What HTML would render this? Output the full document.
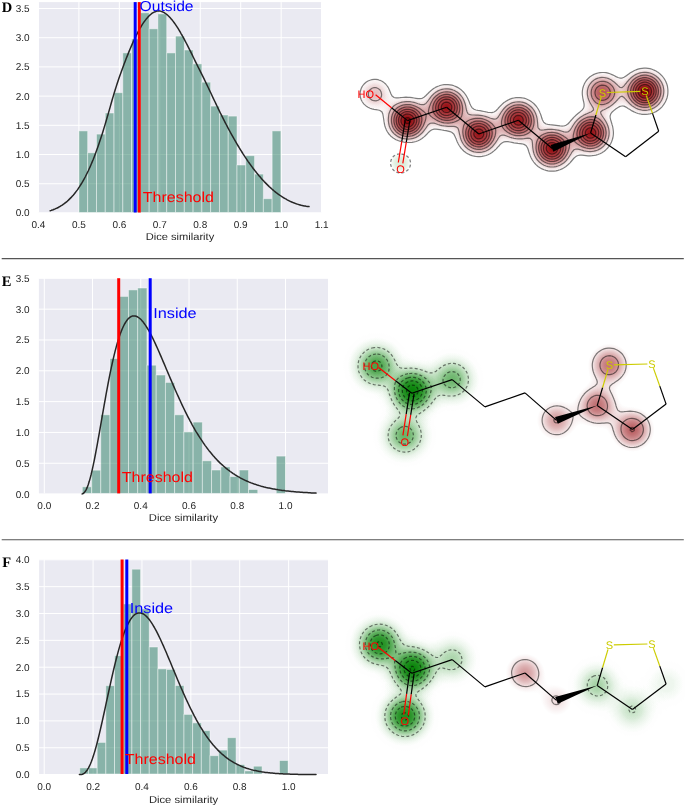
<!DOCTYPE html><html><head><meta charset="utf-8"><style>html,body{margin:0;padding:0;background:#fff;overflow:hidden}svg{display:block}text{font-family:"Liberation Sans",sans-serif;text-rendering:geometricPrecision}</style></head><body>
<svg width="685" height="805" viewBox="0 0 685 805">
<rect width="685" height="805" fill="#fff"/>
<rect x="38.5" y="2.1" width="282.9" height="210.4" fill="#eaeaf2"/>
<line x1="38.45" y1="2.1" x2="38.45" y2="212.5" stroke="#fff" stroke-width="1"/>
<line x1="78.9" y1="2.1" x2="78.9" y2="212.5" stroke="#fff" stroke-width="1"/>
<line x1="119.35" y1="2.1" x2="119.35" y2="212.5" stroke="#fff" stroke-width="1"/>
<line x1="159.8" y1="2.1" x2="159.8" y2="212.5" stroke="#fff" stroke-width="1"/>
<line x1="200.25" y1="2.1" x2="200.25" y2="212.5" stroke="#fff" stroke-width="1"/>
<line x1="240.7" y1="2.1" x2="240.7" y2="212.5" stroke="#fff" stroke-width="1"/>
<line x1="281.15" y1="2.1" x2="281.15" y2="212.5" stroke="#fff" stroke-width="1"/>
<line x1="321.6" y1="2.1" x2="321.6" y2="212.5" stroke="#fff" stroke-width="1"/>
<line x1="38.5" y1="212.95" x2="321.4" y2="212.95" stroke="#fff" stroke-width="1"/>
<line x1="38.5" y1="183.74" x2="321.4" y2="183.74" stroke="#fff" stroke-width="1"/>
<line x1="38.5" y1="154.53" x2="321.4" y2="154.53" stroke="#fff" stroke-width="1"/>
<line x1="38.5" y1="125.32" x2="321.4" y2="125.32" stroke="#fff" stroke-width="1"/>
<line x1="38.5" y1="96.11" x2="321.4" y2="96.11" stroke="#fff" stroke-width="1"/>
<line x1="38.5" y1="66.9" x2="321.4" y2="66.9" stroke="#fff" stroke-width="1"/>
<line x1="38.5" y1="37.69" x2="321.4" y2="37.69" stroke="#fff" stroke-width="1"/>
<line x1="38.5" y1="8.48" x2="321.4" y2="8.48" stroke="#fff" stroke-width="1"/>
<g fill="#267c60" fill-opacity="0.5" stroke="#fff" stroke-opacity="0.5" stroke-width="0.9"><rect x="78.9" y="130.9" width="8.78" height="81.6"/><rect x="87.68" y="152.8" width="8.78" height="59.7"/><rect x="96.47" y="134.1" width="8.78" height="78.4"/><rect x="105.25" y="113" width="8.78" height="99.5"/><rect x="114.03" y="92.7" width="8.78" height="119.8"/><rect x="122.81" y="52.9" width="8.78" height="159.6"/><rect x="131.6" y="39" width="8.78" height="173.5"/><rect x="140.38" y="12.8" width="8.78" height="199.7"/><rect x="149.16" y="28.8" width="8.78" height="183.7"/><rect x="157.95" y="13.9" width="8.78" height="198.6"/><rect x="166.73" y="52.9" width="8.78" height="159.6"/><rect x="175.51" y="36.1" width="8.78" height="176.4"/><rect x="184.3" y="50" width="8.78" height="162.5"/><rect x="193.08" y="63.9" width="8.78" height="148.6"/><rect x="201.86" y="82.2" width="8.78" height="130.3"/><rect x="210.65" y="106.1" width="8.78" height="106.4"/><rect x="219.43" y="115" width="8.78" height="97.5"/><rect x="228.21" y="116.1" width="8.78" height="96.4"/><rect x="236.99" y="165" width="8.78" height="47.5"/><rect x="245.78" y="155.7" width="8.78" height="56.8"/><rect x="254.56" y="174.1" width="8.78" height="38.4"/><rect x="263.34" y="198.7" width="8.78" height="13.8"/><rect x="272.13" y="130.9" width="8.78" height="81.6"/></g>
<path d="M50.2,210.7 L51.2,210.4 L52.2,210.0 L53.2,209.7 L54.2,209.3 L55.2,208.9 L56.2,208.4 L57.2,208.0 L58.2,207.5 L59.2,206.9 L60.2,206.3 L61.2,205.7 L62.2,205.1 L63.2,204.4 L64.2,203.7 L65.2,202.9 L66.2,202.1 L67.2,201.3 L68.2,200.4 L69.2,199.4 L70.2,198.4 L71.2,197.4 L72.2,196.3 L73.2,195.2 L74.2,194.0 L75.2,192.7 L76.2,191.4 L77.2,190.1 L78.2,188.7 L79.2,187.2 L80.2,185.6 L81.2,184.0 L82.2,182.4 L83.2,180.6 L84.2,178.8 L85.2,177.0 L86.2,175.0 L87.2,173.0 L88.2,171.0 L89.2,168.8 L90.2,166.6 L91.2,164.3 L92.2,161.9 L93.2,159.5 L94.2,156.9 L95.2,154.3 L96.2,151.6 L97.2,148.8 L98.2,146.0 L99.2,143.1 L100.2,140.1 L101.2,137.0 L102.2,133.9 L103.2,130.7 L104.2,127.4 L105.2,124.1 L106.2,120.8 L107.2,117.3 L108.2,113.9 L109.2,110.4 L110.2,106.9 L111.2,103.3 L112.2,99.8 L113.2,96.4 L114.2,93.0 L115.2,89.8 L116.2,86.6 L117.2,83.5 L118.2,80.5 L119.2,77.6 L120.2,74.8 L121.2,72.0 L122.2,69.2 L123.2,66.5 L124.2,63.8 L125.2,61.2 L126.2,58.6 L127.2,56.1 L128.2,53.6 L129.2,51.1 L130.2,48.7 L131.2,46.4 L132.2,44.1 L133.2,41.9 L134.2,39.7 L135.2,37.6 L136.2,35.5 L137.2,33.6 L138.2,31.6 L139.2,29.8 L140.2,28.0 L141.2,26.3 L142.2,24.7 L143.2,23.2 L144.2,21.7 L145.2,20.4 L146.2,19.1 L147.2,17.9 L148.2,16.8 L149.2,15.7 L150.2,14.8 L151.2,14.0 L152.2,13.2 L153.2,12.6 L154.2,12.1 L155.2,11.7 L156.2,11.3 L157.2,11.1 L158.2,11.0 L159.2,11.0 L160.2,11.1 L161.2,11.4 L162.2,11.7 L163.2,12.1 L164.2,12.7 L165.2,13.3 L166.2,14.0 L167.2,14.8 L168.2,15.7 L169.2,16.7 L170.2,17.8 L171.2,18.9 L172.2,20.1 L173.2,21.4 L174.2,22.7 L175.2,24.1 L176.2,25.6 L177.2,27.1 L178.2,28.7 L179.2,30.3 L180.2,32.0 L181.2,33.8 L182.2,35.5 L183.2,37.3 L184.2,39.2 L185.2,41.1 L186.2,43.0 L187.2,44.9 L188.2,46.9 L189.2,48.9 L190.2,50.9 L191.2,52.9 L192.2,54.9 L193.2,57.0 L194.2,59.0 L195.2,61.1 L196.2,63.1 L197.2,65.1 L198.2,67.2 L199.2,69.2 L200.2,71.2 L201.2,73.2 L202.2,75.2 L203.2,77.2 L204.2,79.2 L205.2,81.3 L206.2,83.4 L207.2,85.4 L208.2,87.5 L209.2,89.6 L210.2,91.7 L211.2,93.8 L212.2,96.0 L213.2,98.1 L214.2,100.2 L215.2,102.3 L216.2,104.4 L217.2,106.5 L218.2,108.6 L219.2,110.6 L220.2,112.7 L221.2,114.7 L222.2,116.7 L223.2,118.7 L224.2,120.6 L225.2,122.6 L226.2,124.5 L227.2,126.4 L228.2,128.3 L229.2,130.2 L230.2,132.0 L231.2,133.8 L232.2,135.6 L233.2,137.4 L234.2,139.2 L235.2,140.9 L236.2,142.6 L237.2,144.3 L238.2,146.0 L239.2,147.7 L240.2,149.3 L241.2,150.9 L242.2,152.5 L243.2,154.1 L244.2,155.6 L245.2,157.1 L246.2,158.6 L247.2,160.1 L248.2,161.6 L249.2,163.0 L250.2,164.4 L251.2,165.8 L252.2,167.1 L253.2,168.5 L254.2,169.8 L255.2,171.1 L256.2,172.3 L257.2,173.6 L258.2,174.8 L259.2,176.0 L260.2,177.1 L261.2,178.3 L262.2,179.4 L263.2,180.5 L264.2,181.6 L265.2,182.6 L266.2,183.6 L267.2,184.6 L268.2,185.6 L269.2,186.6 L270.2,187.5 L271.2,188.4 L272.2,189.3 L273.2,190.1 L274.2,191.0 L275.2,191.8 L276.2,192.6 L277.2,193.3 L278.2,194.1 L279.2,194.8 L280.2,195.5 L281.2,196.2 L282.2,196.8 L283.2,197.5 L284.2,198.1 L285.2,198.7 L286.2,199.2 L287.2,199.8 L288.2,200.3 L289.2,200.8 L290.2,201.3 L291.2,201.8 L292.2,202.2 L293.2,202.6 L294.2,203.0 L295.2,203.4 L296.2,203.8 L297.2,204.1 L298.2,204.4 L299.2,204.7 L300.2,205.0 L301.2,205.3 L302.2,205.5 L303.2,205.7 L304.2,205.9 L305.2,206.1 L306.2,206.3 L307.2,206.4 L308.2,206.5 L309.0,206.6" fill="none" stroke="#262626" stroke-width="1.5" stroke-linejoin="round" stroke-linecap="round"/>
<line x1="135.2" y1="2.1" x2="135.2" y2="212.5" stroke="#0000ff" stroke-width="3"/>
<line x1="139.3" y1="2.1" x2="139.3" y2="212.5" stroke="#ff0000" stroke-width="3"/>
<text x="139.6" y="11.4" fill="#0000ff" font-size="14.4" textLength="54" lengthAdjust="spacingAndGlyphs">Outside</text>
<text x="142.8" y="202.2" fill="#ff0000" font-size="14.4" textLength="71.2" lengthAdjust="spacingAndGlyphs">Threshold</text>
<text x="38.45" y="228" text-anchor="middle" font-size="10.0" fill="#262626">0.4</text>
<text x="78.9" y="228" text-anchor="middle" font-size="10.0" fill="#262626">0.5</text>
<text x="119.35" y="228" text-anchor="middle" font-size="10.0" fill="#262626">0.6</text>
<text x="159.8" y="228" text-anchor="middle" font-size="10.0" fill="#262626">0.7</text>
<text x="200.25" y="228" text-anchor="middle" font-size="10.0" fill="#262626">0.8</text>
<text x="240.7" y="228" text-anchor="middle" font-size="10.0" fill="#262626">0.9</text>
<text x="281.15" y="228" text-anchor="middle" font-size="10.0" fill="#262626">1.0</text>
<text x="321.6" y="228" text-anchor="middle" font-size="10.0" fill="#262626">1.1</text>
<text x="29.6" y="216.35" text-anchor="end" font-size="10.0" fill="#262626">0.0</text>
<text x="29.6" y="187.14" text-anchor="end" font-size="10.0" fill="#262626">0.5</text>
<text x="29.6" y="157.93" text-anchor="end" font-size="10.0" fill="#262626">1.0</text>
<text x="29.6" y="128.72" text-anchor="end" font-size="10.0" fill="#262626">1.5</text>
<text x="29.6" y="99.51" text-anchor="end" font-size="10.0" fill="#262626">2.0</text>
<text x="29.6" y="70.3" text-anchor="end" font-size="10.0" fill="#262626">2.5</text>
<text x="29.6" y="41.09" text-anchor="end" font-size="10.0" fill="#262626">3.0</text>
<text x="29.6" y="11.88" text-anchor="end" font-size="10.0" fill="#262626">3.5</text>
<text x="179.95" y="240" text-anchor="middle" font-size="10.0" fill="#262626" textLength="68.5" lengthAdjust="spacingAndGlyphs">Dice similarity</text>
<text x="1.8" y="11.9" style="font-family:'Liberation Serif',serif;font-weight:bold" font-size="14.5" fill="#000">D</text>
<defs><radialGradient id="g0r0" gradientUnits="userSpaceOnUse" cx="374.8" cy="94.1" r="35.8"><stop offset="0.000" stop-color="#2d2d2d"/><stop offset="0.042" stop-color="#2d2d2d"/><stop offset="0.083" stop-color="#2b2b2b"/><stop offset="0.125" stop-color="#2a2a2a"/><stop offset="0.167" stop-color="#272727"/><stop offset="0.208" stop-color="#242424"/><stop offset="0.250" stop-color="#212121"/><stop offset="0.292" stop-color="#1d1d1d"/><stop offset="0.333" stop-color="#191919"/><stop offset="0.375" stop-color="#161616"/><stop offset="0.417" stop-color="#121212"/><stop offset="0.458" stop-color="#0f0f0f"/><stop offset="0.500" stop-color="#0d0d0d"/><stop offset="0.542" stop-color="#0a0a0a"/><stop offset="0.583" stop-color="#080808"/><stop offset="0.625" stop-color="#060606"/><stop offset="0.667" stop-color="#050505"/><stop offset="0.708" stop-color="#030303"/><stop offset="0.750" stop-color="#030303"/><stop offset="0.792" stop-color="#020202"/><stop offset="0.833" stop-color="#010101"/><stop offset="0.875" stop-color="#010101"/><stop offset="0.917" stop-color="#010101"/><stop offset="0.958" stop-color="#000000"/><stop offset="1.000" stop-color="#000000"/></radialGradient><radialGradient id="g0r1" gradientUnits="userSpaceOnUse" cx="407.5" cy="120.6" r="35.8"><stop offset="0.000" stop-color="#9d9d9d"/><stop offset="0.042" stop-color="#9c9c9c"/><stop offset="0.083" stop-color="#989898"/><stop offset="0.125" stop-color="#919191"/><stop offset="0.167" stop-color="#898989"/><stop offset="0.208" stop-color="#7e7e7e"/><stop offset="0.250" stop-color="#727272"/><stop offset="0.292" stop-color="#666666"/><stop offset="0.333" stop-color="#595959"/><stop offset="0.375" stop-color="#4d4d4d"/><stop offset="0.417" stop-color="#414141"/><stop offset="0.458" stop-color="#363636"/><stop offset="0.500" stop-color="#2c2c2c"/><stop offset="0.542" stop-color="#232323"/><stop offset="0.583" stop-color="#1c1c1c"/><stop offset="0.625" stop-color="#151515"/><stop offset="0.667" stop-color="#101010"/><stop offset="0.708" stop-color="#0c0c0c"/><stop offset="0.750" stop-color="#090909"/><stop offset="0.792" stop-color="#060606"/><stop offset="0.833" stop-color="#040404"/><stop offset="0.875" stop-color="#030303"/><stop offset="0.917" stop-color="#020202"/><stop offset="0.958" stop-color="#010101"/><stop offset="1.000" stop-color="#010101"/></radialGradient><radialGradient id="g0r2" gradientUnits="userSpaceOnUse" cx="446.6" cy="107.3" r="35.8"><stop offset="0.000" stop-color="#949494"/><stop offset="0.042" stop-color="#939393"/><stop offset="0.083" stop-color="#8f8f8f"/><stop offset="0.125" stop-color="#898989"/><stop offset="0.167" stop-color="#808080"/><stop offset="0.208" stop-color="#777777"/><stop offset="0.250" stop-color="#6b6b6b"/><stop offset="0.292" stop-color="#606060"/><stop offset="0.333" stop-color="#545454"/><stop offset="0.375" stop-color="#484848"/><stop offset="0.417" stop-color="#3d3d3d"/><stop offset="0.458" stop-color="#323232"/><stop offset="0.500" stop-color="#292929"/><stop offset="0.542" stop-color="#212121"/><stop offset="0.583" stop-color="#1a1a1a"/><stop offset="0.625" stop-color="#141414"/><stop offset="0.667" stop-color="#0f0f0f"/><stop offset="0.708" stop-color="#0b0b0b"/><stop offset="0.750" stop-color="#080808"/><stop offset="0.792" stop-color="#060606"/><stop offset="0.833" stop-color="#040404"/><stop offset="0.875" stop-color="#030303"/><stop offset="0.917" stop-color="#020202"/><stop offset="0.958" stop-color="#010101"/><stop offset="1.000" stop-color="#010101"/></radialGradient><radialGradient id="g0r3" gradientUnits="userSpaceOnUse" cx="478.8" cy="134" r="35.8"><stop offset="0.000" stop-color="#929292"/><stop offset="0.042" stop-color="#919191"/><stop offset="0.083" stop-color="#8d8d8d"/><stop offset="0.125" stop-color="#878787"/><stop offset="0.167" stop-color="#7f7f7f"/><stop offset="0.208" stop-color="#757575"/><stop offset="0.250" stop-color="#6a6a6a"/><stop offset="0.292" stop-color="#5f5f5f"/><stop offset="0.333" stop-color="#535353"/><stop offset="0.375" stop-color="#474747"/><stop offset="0.417" stop-color="#3c3c3c"/><stop offset="0.458" stop-color="#323232"/><stop offset="0.500" stop-color="#292929"/><stop offset="0.542" stop-color="#212121"/><stop offset="0.583" stop-color="#1a1a1a"/><stop offset="0.625" stop-color="#141414"/><stop offset="0.667" stop-color="#0f0f0f"/><stop offset="0.708" stop-color="#0b0b0b"/><stop offset="0.750" stop-color="#080808"/><stop offset="0.792" stop-color="#060606"/><stop offset="0.833" stop-color="#040404"/><stop offset="0.875" stop-color="#030303"/><stop offset="0.917" stop-color="#020202"/><stop offset="0.958" stop-color="#010101"/><stop offset="1.000" stop-color="#010101"/></radialGradient><radialGradient id="g0r4" gradientUnits="userSpaceOnUse" cx="518.4" cy="120.2" r="35.8"><stop offset="0.000" stop-color="#929292"/><stop offset="0.042" stop-color="#919191"/><stop offset="0.083" stop-color="#8d8d8d"/><stop offset="0.125" stop-color="#878787"/><stop offset="0.167" stop-color="#7f7f7f"/><stop offset="0.208" stop-color="#757575"/><stop offset="0.250" stop-color="#6a6a6a"/><stop offset="0.292" stop-color="#5f5f5f"/><stop offset="0.333" stop-color="#535353"/><stop offset="0.375" stop-color="#474747"/><stop offset="0.417" stop-color="#3c3c3c"/><stop offset="0.458" stop-color="#323232"/><stop offset="0.500" stop-color="#292929"/><stop offset="0.542" stop-color="#212121"/><stop offset="0.583" stop-color="#1a1a1a"/><stop offset="0.625" stop-color="#141414"/><stop offset="0.667" stop-color="#0f0f0f"/><stop offset="0.708" stop-color="#0b0b0b"/><stop offset="0.750" stop-color="#080808"/><stop offset="0.792" stop-color="#060606"/><stop offset="0.833" stop-color="#040404"/><stop offset="0.875" stop-color="#030303"/><stop offset="0.917" stop-color="#020202"/><stop offset="0.958" stop-color="#010101"/><stop offset="1.000" stop-color="#010101"/></radialGradient><radialGradient id="g0r5" gradientUnits="userSpaceOnUse" cx="552" cy="148.3" r="35.8"><stop offset="0.000" stop-color="#989898"/><stop offset="0.042" stop-color="#969696"/><stop offset="0.083" stop-color="#929292"/><stop offset="0.125" stop-color="#8c8c8c"/><stop offset="0.167" stop-color="#848484"/><stop offset="0.208" stop-color="#7a7a7a"/><stop offset="0.250" stop-color="#6e6e6e"/><stop offset="0.292" stop-color="#626262"/><stop offset="0.333" stop-color="#565656"/><stop offset="0.375" stop-color="#4a4a4a"/><stop offset="0.417" stop-color="#3e3e3e"/><stop offset="0.458" stop-color="#343434"/><stop offset="0.500" stop-color="#2a2a2a"/><stop offset="0.542" stop-color="#222222"/><stop offset="0.583" stop-color="#1b1b1b"/><stop offset="0.625" stop-color="#151515"/><stop offset="0.667" stop-color="#101010"/><stop offset="0.708" stop-color="#0c0c0c"/><stop offset="0.750" stop-color="#090909"/><stop offset="0.792" stop-color="#060606"/><stop offset="0.833" stop-color="#040404"/><stop offset="0.875" stop-color="#030303"/><stop offset="0.917" stop-color="#020202"/><stop offset="0.958" stop-color="#010101"/><stop offset="1.000" stop-color="#010101"/></radialGradient><radialGradient id="g0r6" gradientUnits="userSpaceOnUse" cx="590.6" cy="133" r="35.8"><stop offset="0.000" stop-color="#949494"/><stop offset="0.042" stop-color="#939393"/><stop offset="0.083" stop-color="#8f8f8f"/><stop offset="0.125" stop-color="#898989"/><stop offset="0.167" stop-color="#808080"/><stop offset="0.208" stop-color="#777777"/><stop offset="0.250" stop-color="#6b6b6b"/><stop offset="0.292" stop-color="#606060"/><stop offset="0.333" stop-color="#545454"/><stop offset="0.375" stop-color="#484848"/><stop offset="0.417" stop-color="#3d3d3d"/><stop offset="0.458" stop-color="#323232"/><stop offset="0.500" stop-color="#292929"/><stop offset="0.542" stop-color="#212121"/><stop offset="0.583" stop-color="#1a1a1a"/><stop offset="0.625" stop-color="#141414"/><stop offset="0.667" stop-color="#0f0f0f"/><stop offset="0.708" stop-color="#0b0b0b"/><stop offset="0.750" stop-color="#080808"/><stop offset="0.792" stop-color="#060606"/><stop offset="0.833" stop-color="#040404"/><stop offset="0.875" stop-color="#030303"/><stop offset="0.917" stop-color="#020202"/><stop offset="0.958" stop-color="#010101"/><stop offset="1.000" stop-color="#010101"/></radialGradient><radialGradient id="g0r7" gradientUnits="userSpaceOnUse" cx="602.5" cy="92.6" r="35.8"><stop offset="0.000" stop-color="#5f5f5f"/><stop offset="0.042" stop-color="#5e5e5e"/><stop offset="0.083" stop-color="#5c5c5c"/><stop offset="0.125" stop-color="#585858"/><stop offset="0.167" stop-color="#525252"/><stop offset="0.208" stop-color="#4c4c4c"/><stop offset="0.250" stop-color="#454545"/><stop offset="0.292" stop-color="#3d3d3d"/><stop offset="0.333" stop-color="#363636"/><stop offset="0.375" stop-color="#2e2e2e"/><stop offset="0.417" stop-color="#272727"/><stop offset="0.458" stop-color="#202020"/><stop offset="0.500" stop-color="#1a1a1a"/><stop offset="0.542" stop-color="#151515"/><stop offset="0.583" stop-color="#111111"/><stop offset="0.625" stop-color="#0d0d0d"/><stop offset="0.667" stop-color="#0a0a0a"/><stop offset="0.708" stop-color="#070707"/><stop offset="0.750" stop-color="#050505"/><stop offset="0.792" stop-color="#040404"/><stop offset="0.833" stop-color="#030303"/><stop offset="0.875" stop-color="#020202"/><stop offset="0.917" stop-color="#010101"/><stop offset="0.958" stop-color="#010101"/><stop offset="1.000" stop-color="#010101"/></radialGradient><radialGradient id="g0r8" gradientUnits="userSpaceOnUse" cx="644.8" cy="91.3" r="35.8"><stop offset="0.000" stop-color="#9f9f9f"/><stop offset="0.042" stop-color="#9e9e9e"/><stop offset="0.083" stop-color="#9a9a9a"/><stop offset="0.125" stop-color="#939393"/><stop offset="0.167" stop-color="#8a8a8a"/><stop offset="0.208" stop-color="#808080"/><stop offset="0.250" stop-color="#747474"/><stop offset="0.292" stop-color="#676767"/><stop offset="0.333" stop-color="#5a5a5a"/><stop offset="0.375" stop-color="#4e4e4e"/><stop offset="0.417" stop-color="#424242"/><stop offset="0.458" stop-color="#363636"/><stop offset="0.500" stop-color="#2c2c2c"/><stop offset="0.542" stop-color="#232323"/><stop offset="0.583" stop-color="#1c1c1c"/><stop offset="0.625" stop-color="#161616"/><stop offset="0.667" stop-color="#101010"/><stop offset="0.708" stop-color="#0c0c0c"/><stop offset="0.750" stop-color="#090909"/><stop offset="0.792" stop-color="#060606"/><stop offset="0.833" stop-color="#050505"/><stop offset="0.875" stop-color="#030303"/><stop offset="0.917" stop-color="#020202"/><stop offset="0.958" stop-color="#010101"/><stop offset="1.000" stop-color="#010101"/></radialGradient><filter id="cm0r" x="0" y="0" width="1" height="1" filterUnits="objectBoundingBox" color-interpolation-filters="sRGB"><feComponentTransfer><feFuncR type="table" tableValues="1.000 1.000 1.000 1.000 1.000 1.000 1.000 0.993 0.985 0.978 0.971 0.960 0.948 0.936 0.924 0.912 0.900 0.888 0.876 0.865 0.855 0.844 0.833 0.822 0.811 0.801 0.792 0.783 0.774 0.765 0.756 0.747 0.739 0.733 0.727 0.721 0.715 0.709 0.703 0.697 0.693 0.688 0.683 0.678 0.673 0.668 0.664 0.659 0.654 0.646 0.639 0.632 0.625 0.617 0.610 0.603 0.596 0.589 0.581 0.574 0.569 0.569 0.569 0.569 0.569 0.569 0.569 0.569 0.569 0.569 0.569 0.569 0.569 0.569 0.569 0.569 0.569 0.569 0.569 0.569 0.569 0.569 0.569 0.569 0.569 0.569 0.569 0.569 0.569 0.569 0.569 0.569 0.569 0.569 0.569 0.569 0.569"/><feFuncG type="table" tableValues="1.000 1.000 1.000 1.000 1.000 1.000 1.000 0.983 0.966 0.949 0.933 0.907 0.879 0.851 0.823 0.795 0.767 0.739 0.713 0.688 0.663 0.638 0.613 0.588 0.563 0.540 0.519 0.498 0.477 0.456 0.435 0.414 0.395 0.382 0.368 0.354 0.340 0.326 0.312 0.298 0.287 0.276 0.265 0.254 0.243 0.231 0.220 0.209 0.197 0.180 0.163 0.147 0.130 0.113 0.097 0.080 0.063 0.046 0.030 0.013 0.000 0.000 0.000 0.000 0.000 0.000 0.000 0.000 0.000 0.000 0.000 0.000 0.000 0.000 0.000 0.000 0.000 0.000 0.000 0.000 0.000 0.000 0.000 0.000 0.000 0.000 0.000 0.000 0.000 0.000 0.000 0.000 0.000 0.000 0.000 0.000 0.000"/><feFuncB type="table" tableValues="1.000 1.000 1.000 1.000 1.000 1.000 1.000 0.983 0.967 0.950 0.934 0.908 0.881 0.854 0.826 0.799 0.772 0.744 0.719 0.694 0.670 0.645 0.620 0.596 0.571 0.549 0.528 0.508 0.487 0.467 0.446 0.426 0.407 0.394 0.380 0.366 0.353 0.339 0.325 0.312 0.301 0.290 0.279 0.268 0.257 0.246 0.236 0.225 0.213 0.196 0.180 0.163 0.147 0.131 0.114 0.098 0.081 0.065 0.049 0.032 0.020 0.020 0.020 0.020 0.020 0.020 0.020 0.020 0.020 0.020 0.020 0.020 0.020 0.020 0.020 0.020 0.020 0.020 0.020 0.020 0.020 0.020 0.020 0.020 0.020 0.020 0.020 0.020 0.020 0.020 0.020 0.020 0.020 0.020 0.020 0.020 0.020"/></feComponentTransfer></filter><radialGradient id="g0g0" gradientUnits="userSpaceOnUse" cx="400.6" cy="163" r="35.8"><stop offset="0.000" stop-color="#9f9f9f"/><stop offset="0.042" stop-color="#9e9e9e"/><stop offset="0.083" stop-color="#9a9a9a"/><stop offset="0.125" stop-color="#939393"/><stop offset="0.167" stop-color="#8a8a8a"/><stop offset="0.208" stop-color="#808080"/><stop offset="0.250" stop-color="#747474"/><stop offset="0.292" stop-color="#676767"/><stop offset="0.333" stop-color="#5a5a5a"/><stop offset="0.375" stop-color="#4e4e4e"/><stop offset="0.417" stop-color="#424242"/><stop offset="0.458" stop-color="#363636"/><stop offset="0.500" stop-color="#2c2c2c"/><stop offset="0.542" stop-color="#232323"/><stop offset="0.583" stop-color="#1c1c1c"/><stop offset="0.625" stop-color="#161616"/><stop offset="0.667" stop-color="#101010"/><stop offset="0.708" stop-color="#0c0c0c"/><stop offset="0.750" stop-color="#090909"/><stop offset="0.792" stop-color="#060606"/><stop offset="0.833" stop-color="#050505"/><stop offset="0.875" stop-color="#030303"/><stop offset="0.917" stop-color="#020202"/><stop offset="0.958" stop-color="#010101"/><stop offset="1.000" stop-color="#010101"/></radialGradient><filter id="cm0g" x="0" y="0" width="1" height="1" filterUnits="objectBoundingBox" color-interpolation-filters="sRGB"><feComponentTransfer><feFuncR type="table" tableValues="1.000 1.000 1.000 1.000 1.000 1.000 1.000 1.000 1.000 1.000 1.000 1.000 1.000 1.000 1.000 1.000 1.000 1.000 1.000 1.000 1.000 1.000 1.000 1.000 1.000 1.000 1.000 1.000 1.000 1.000 1.000 1.000 1.000 1.000 1.000 1.000 1.000 1.000 1.000 1.000 1.000 0.993 0.984 0.975 0.966 0.957 0.948 0.939 0.930 0.921 0.912 0.903 0.894 0.885 0.878 0.874 0.871 0.867 0.863 0.859 0.855 0.851 0.848 0.844 0.840 0.836 0.832 0.828 0.824 0.821 0.817 0.813 0.809 0.805 0.801 0.798 0.794 0.790 0.786 0.782 0.778 0.775 0.771 0.767 0.763 0.759 0.755 0.752 0.748 0.744 0.740 0.736 0.732 0.728 0.725 0.721 0.717"/><feFuncG type="table" tableValues="1.000 1.000 1.000 1.000 1.000 1.000 1.000 1.000 1.000 1.000 1.000 1.000 1.000 1.000 1.000 1.000 1.000 1.000 1.000 1.000 1.000 1.000 1.000 1.000 1.000 1.000 1.000 1.000 1.000 1.000 1.000 1.000 1.000 1.000 1.000 1.000 1.000 1.000 1.000 1.000 1.000 0.996 0.992 0.987 0.983 0.978 0.974 0.969 0.965 0.961 0.956 0.952 0.947 0.943 0.939 0.937 0.936 0.934 0.932 0.930 0.928 0.926 0.924 0.922 0.920 0.918 0.916 0.915 0.913 0.911 0.909 0.907 0.905 0.903 0.901 0.899 0.897 0.895 0.893 0.892 0.890 0.888 0.886 0.884 0.882 0.880 0.878 0.876 0.874 0.872 0.871 0.869 0.867 0.865 0.863 0.861 0.859"/><feFuncB type="table" tableValues="1.000 1.000 1.000 1.000 1.000 1.000 1.000 1.000 1.000 1.000 1.000 1.000 1.000 1.000 1.000 1.000 1.000 1.000 1.000 1.000 1.000 1.000 1.000 1.000 1.000 1.000 1.000 1.000 1.000 1.000 1.000 1.000 1.000 1.000 1.000 1.000 1.000 1.000 1.000 1.000 1.000 0.993 0.984 0.975 0.966 0.957 0.948 0.939 0.930 0.921 0.912 0.903 0.894 0.885 0.878 0.874 0.871 0.867 0.863 0.859 0.855 0.851 0.848 0.844 0.840 0.836 0.832 0.828 0.824 0.821 0.817 0.813 0.809 0.805 0.801 0.798 0.794 0.790 0.786 0.782 0.778 0.775 0.771 0.767 0.763 0.759 0.755 0.752 0.748 0.744 0.740 0.736 0.732 0.728 0.725 0.721 0.717"/></feComponentTransfer></filter></defs>
<g filter="url(#cm0r)"><rect x="340" y="40" width="345" height="180" fill="#000"/><circle cx="374.8" cy="94.1" r="35.8" fill="url(#g0r0)" style="mix-blend-mode:plus-lighter"/><circle cx="407.5" cy="120.6" r="35.8" fill="url(#g0r1)" style="mix-blend-mode:plus-lighter"/><circle cx="446.6" cy="107.3" r="35.8" fill="url(#g0r2)" style="mix-blend-mode:plus-lighter"/><circle cx="478.8" cy="134" r="35.8" fill="url(#g0r3)" style="mix-blend-mode:plus-lighter"/><circle cx="518.4" cy="120.2" r="35.8" fill="url(#g0r4)" style="mix-blend-mode:plus-lighter"/><circle cx="552" cy="148.3" r="35.8" fill="url(#g0r5)" style="mix-blend-mode:plus-lighter"/><circle cx="590.6" cy="133" r="35.8" fill="url(#g0r6)" style="mix-blend-mode:plus-lighter"/><circle cx="602.5" cy="92.6" r="35.8" fill="url(#g0r7)" style="mix-blend-mode:plus-lighter"/><circle cx="644.8" cy="91.3" r="35.8" fill="url(#g0r8)" style="mix-blend-mode:plus-lighter"/></g>
<g filter="url(#cm0g)" style="mix-blend-mode:multiply"><rect x="340" y="40" width="345" height="180" fill="#000"/><circle cx="400.6" cy="163" r="35.8" fill="url(#g0g0)" style="mix-blend-mode:plus-lighter"/></g>
<path d="M636,69.9 638,69.1 640,68.6 642,68.3 644,68.2 646,68.2 648,68.4 650,68.7 652,69.3 653.7,70 654,70.1 656,71 657.5,72 658,72.3 660,73.9 660.1,74 662,75.9 662.1,76 663.7,78 664,78.4 665,80 666,82 666,82.1 666.8,84 667.4,86 667.7,88 667.9,90 667.9,92 667.8,94 667.5,96 667,98 666.2,100 666,100.5 665.3,102 664.1,104 664,104.2 662.7,106 662,106.8 660.8,108 660,108.7 658.4,110 658,110.3 656,111.6 655.1,112 654,112.5 652,113.3 650,113.8 649,114 648,114.2 646,114.4 644,114.4 642,114.3 640.5,114 640,113.9 638,113.5 636,112.8 634.3,112 634,111.9 632,110.9 630.6,110 630,109.6 628,108.4 627.4,108 626,107.1 624,106.2 622.5,106 622,105.9 621.7,106 620,106.4 618,107.4 617.2,108 616,108.8 614.5,110 614,110.4 612.2,112 612,112.2 610.7,114 610.1,116 610.2,118 610.7,120 611.3,122 611.9,124 612,124.4 612.5,126 612.9,128 613.2,130 613.4,132 613.4,134 613.2,136 612.8,138 612.2,140 612,140.6 611.5,142 610.5,144 610,144.8 609.3,146 608,147.6 607.7,148 606,149.7 605.7,150 604,151.4 603,152 602,152.7 600,153.7 599.2,154 598,154.5 596,155.1 594,155.5 592,155.7 590,155.8 588,155.8 586,155.6 584,155.4 582,155.2 580,155.2 578,155.5 576.7,156 576,156.4 574.2,158 574,158.1 572.4,160 572,160.5 570.7,162 570,162.8 568.8,164 568,164.8 566.5,166 566,166.4 564,167.8 563.6,168 562,168.9 560,169.7 559.1,170 558,170.4 556,170.9 554,171.1 552,171.2 550,171.1 548,170.9 546,170.4 544.9,170 544,169.7 542,168.9 540.4,168 540,167.8 538,166.4 537.5,166 536,164.6 535.4,164 534,162.4 533.7,162 532.3,160 532,159.4 531.2,158 530.3,156 530,155.1 529.6,154 528.9,152 528.3,150 528,149 527.6,148 526.4,146 526,145.6 524,144.4 522.8,144 522,143.8 520,143.6 518,143.4 516,143.1 514,142.8 512,142.4 510,142 509.9,142 508,141.7 506,141.6 504,141.9 503.7,142 502,142.9 500.7,144 500,144.7 498.9,146 498,146.9 497,148 496,149.1 495,150 494,150.9 492.6,152 492,152.5 490,153.7 489.4,154 488,154.7 486,155.5 484.1,156 484,156 482,156.4 480,156.7 478,156.7 476,156.5 474,156.1 473.5,156 472,155.6 470,154.9 468.2,154 468,153.9 466,152.7 465.1,152 464,151.2 462.8,150 462,149.2 460.9,148 460,146.7 459.5,146 458.3,144 458,143.3 457.3,142 456.5,140 456,138.6 455.7,138 454.8,136 454,134.4 453.7,134 452,132.5 451.2,132 450,131.6 448,131.1 446,130.7 444,130.4 442,130 441.9,130 440,129.7 438,129.4 436,129.1 434,129.2 432,129.7 431.5,130 430,131 428.9,132 428,132.9 427,134 426,135 425,136 424,136.9 422.6,138 422,138.5 420,139.8 419.6,140 418,140.8 416,141.5 414.1,142 414,142 412,142.4 410,142.5 408,142.5 406,142.4 404,142.1 403.5,142 402,141.7 400,141.2 398,140.5 396.8,140 396,139.7 394,138.5 393.2,138 392,137.1 390.7,136 390,135.2 388.9,134 388,132.7 387.5,132 386.4,130 386,128.9 385.6,128 384.9,126 384.4,124 384.1,122 384,121.4 383.8,120 383.5,118 383.2,116 382.8,114 382,112 382,112 380,110.5 378.2,110 378,110 376,109.6 374,109.3 372,108.8 370,108.2 369.6,108 368,107.2 366.1,106 366,105.9 364,104.1 363.9,104 362.4,102 362,101.3 361.3,100 360.6,98 360.2,96 360.1,94 360.2,92 360.7,90 361.4,88 362,86.9 362.5,86 364,84.1 364.1,84 366,82.3 366.4,82 368,81 370,80.2 370.7,80 372,79.6 374,79.4 376,79.4 378,79.7 378.9,80 380,80.3 382,81.2 383.2,82 384,82.6 385.6,84 386,84.5 387.2,86 388,87.2 388.5,88 389.4,90 390,91.5 390.2,92 391,94 392,95.9 392.1,96 394,97.5 396,97.9 398,97.8 400,97.7 402,97.5 404,97.3 406,97.2 408,97.3 410,97.4 412,97.7 414,98 414,98 416,98.3 418,98.6 420,98.6 422,98.3 422.6,98 424,97.2 425.4,96 426,95.5 427.4,94 428,93.5 429.4,92 430,91.5 431.7,90 432,89.8 434,88.3 434.6,88 436,87.1 438,86.3 438.8,86 440,85.5 442,85 444,84.7 446,84.6 448,84.6 450,84.8 452,85.2 454,85.8 454.4,86 456,86.6 458,87.6 458.6,88 460,88.9 461.3,90 462,90.6 463.4,92 464,92.7 465.1,94 466,95.4 466.4,96 467.5,98 468,99.1 468.4,100 469.3,102 470,104 470,104 471,106 472,107.6 472.4,108 474,109.2 475.9,110 476,110 478,110.4 480,110.7 482,111.1 484,111.5 486,111.9 486.5,112 488,112.3 490,112.5 492,112.6 494,112 494.1,112 496,110.7 496.7,110 498,108.6 498.5,108 500,106.4 500.4,106 502,104.4 502.4,104 504,102.6 504.9,102 506,101.2 508,100.1 508.2,100 510,99.1 512,98.4 514,98 514,98 516,97.7 518,97.5 520,97.6 522,97.8 522.7,98 524,98.2 526,98.8 528,99.7 528.6,100 530,100.7 531.9,102 532,102.1 534,103.8 534.2,104 536,106 536,106 537.5,108 538,108.8 538.7,110 539.7,112 540,112.9 540.5,114 541.2,116 541.8,118 542,118.8 542.5,120 543.6,122 544,122.6 546,123.9 546.3,124 548,124.4 550,124.7 552,124.9 554,125.1 556,125.3 558,125.6 560,125.9 561.2,126 562,126.1 563.4,126 564,126 566,125.3 567.8,124 568,123.9 569.7,122 570,121.7 571.4,120 572,119.3 573.2,118 574,117.1 575.2,116 576,115.2 577.4,114 578,113.5 579.9,112 580,111.9 582,110.1 582.1,110 583.6,108 584,106.6 584.1,106 584.1,104 584,103.6 583.7,102 583.2,100 582.8,98 582.5,96 582.3,94 582.3,92 582.5,90 582.9,88 583.5,86 584,84.8 584.3,84 585.4,82 586,81.1 586.8,80 588,78.7 588.7,78 590,76.8 591.2,76 592,75.4 594,74.4 594.9,74 596,73.6 598,73 600,72.6 602,72.5 604,72.5 606,72.7 608,73.2 610,73.8 610.5,74 612,74.6 614,75.5 614.9,76 616,76.6 618,77.5 619.7,78 620,78.1 622,78.1 622.2,78 624,77.3 626,76.1 626.1,76 628,74.6 628.8,74 630,73.1 631.8,72 632,71.9 634,70.7 635.7,70ZM638,73.5 640,72.9 642,72.5 644,72.3 646,72.3 648,72.6 650,73 652,73.7 652.6,74 654,74.7 656,76 656,76 658,77.7 658.3,78 660,79.9 660,80 661.4,82 662,83.3 662.3,84 663.1,86 663.5,88 663.8,90 663.8,92 663.6,94 663.2,96 662.6,98 662,99.3 661.7,100 660.5,102 660,102.7 658.9,104 658,104.9 656.8,106 656,106.6 654,107.9 653.8,108 652,108.9 650,109.6 648,110 648,110 646,110.3 644,110.3 642,110.1 641.6,110 640,109.7 638,109.1 636,108.2 635.6,108 634,107.1 632.4,106 632,105.7 630,104 630,104 628,102 628,101.9 626.2,100 626,99.7 624.3,98 624,97.5 622,96.2 620,97 619.2,98 618,99.1 617.3,100 616,101.3 615.4,102 614,103.3 613.2,104 612,105 610.6,106 610,106.4 608,107.6 607.2,108 606,108.7 604,109.7 603.1,110 602,110.8 600.6,112 601,114 602,115.5 602.2,116 603.6,118 604,118.5 604.9,120 606,121.8 606.1,122 607.1,124 607.9,126 608,126.3 608.5,128 608.9,130 609.1,132 609.1,134 608.9,136 608.4,138 608,139.2 607.7,140 606.8,142 606,143.2 605.5,144 604,145.7 603.7,146 602,147.6 601.4,148 600,148.9 598,149.9 597.8,150 596,150.7 594,151.2 592,151.5 590,151.6 588,151.5 586,151.2 584,150.8 582,150.2 581.2,150 580,149.7 578,149.2 576,149 574,149.8 573.8,150 572,152 572,152 570.9,154 570,155.3 569.6,156 568.3,158 568,158.4 566.7,160 566,160.8 564.8,162 564,162.7 562.1,164 562,164.1 560,165.2 558,166 557.9,166 556,166.6 554,166.9 552,167 550,166.9 548,166.6 546.1,166 546,166 544,165.2 542,164 541.9,164 540,162.6 539.3,162 538,160.6 537.4,160 536,158 536,157.9 534.9,156 534.1,154 534,153.6 533.5,152 533.1,150 532.8,148 532.6,146 532.5,144 532.3,142 532,140.2 531.9,140 530,138.3 528,138.2 526,138.4 524,138.7 522,138.8 520,138.9 518,138.9 516,138.7 514,138.3 512.8,138 512,137.8 510,137.2 508,136.5 506.7,136 506,135.7 504,135.1 502,135 500,136 500,136 498.5,138 498,138.7 497.3,140 496,141.9 496,142 494.6,144 494,144.7 492.9,146 492,147 490.8,148 490,148.7 488,149.9 487.9,150 486,151 484,151.7 482.5,152 482,152.1 480,152.4 478,152.4 476,152.2 475.1,152 474,151.8 472,151.1 470,150.2 469.7,150 468,148.9 466.9,148 466,147.2 464.8,146 464,145 463.3,144 462.1,142 462,141.7 461.2,140 460.5,138 460,136 460,135.9 459.5,134 459.1,132 458.6,130 458,128.4 457.7,128 456,126.8 454,126.4 452,126.3 450,126.3 448,126.3 446,126.1 445,126 444,125.9 442,125.6 440,125.1 438,124.5 436.6,124 436,123.8 434,123.2 432,123 430,123.4 429.2,124 428,125 427.3,126 426,127.8 425.9,128 424.5,130 424,130.6 422.9,132 422,133 420.9,134 420,134.8 418.4,136 418,136.3 416,137.4 414.4,138 414,138.1 412,138.7 410,139 408,139.1 406,139 404,138.7 402,138.3 401.3,138 400,137.6 398,136.6 397,136 396,135.3 394.4,134 394,133.6 392.5,132 392,131.3 391.1,130 390.1,128 390,127.7 389.3,126 388.8,124 388.5,122 388.3,120 388.4,118 388.6,116 388.9,114 389.6,112 390,111 390.5,110 391.8,108 392,107.8 393.8,106 394,105.8 396,104.5 396.9,104 398,103.5 400,102.7 402,102.2 402.9,102 404,101.8 406,101.6 408,101.5 410,101.7 411.9,102 412,102 414,102.4 416,103 418,103.7 419,104 420,104.3 422,104.7 424,104.6 425,104 426,103.4 427.1,102 428,100.9 428.6,100 430,98.1 430.1,98 431.6,96 432,95.6 433.6,94 434,93.6 436,92.1 436.2,92 438,90.9 440,90 440.1,90 442,89.4 444,89 446,88.8 448,88.8 450,89.1 452,89.6 453,90 454,90.3 456,91.4 457,92 458,92.7 459.5,94 460,94.5 461.3,96 462,97 462.7,98 463.7,100 464,100.7 464.5,102 465.2,104 465.7,106 466,107.9 466,108 466.5,110 467.1,112 468,113.6 468.4,114 470,114.7 472,115 474,115 476,115.1 478,115.1 480,115.3 482,115.6 483.8,116 484,116 486,116.6 488,117.3 489.9,118 490,118 492,118.7 494,119.2 496,119 497.2,118 498,117.3 498.8,116 500,114.2 500.1,114 501.3,112 502,111.1 502.7,110 504,108.5 504.5,108 506,106.5 506.6,106 508,105 509.7,104 510,103.8 512,102.9 514,102.3 515.8,102 516,102 518,101.8 520,101.9 520.9,102 522,102.2 524,102.6 526,103.4 527.1,104 528,104.5 530,105.9 530.1,106 532,107.8 532.2,108 533.7,110 534,110.4 534.9,112 535.8,114 536,114.6 536.5,116 537,118 537.3,120 537.5,122 537.7,124 537.8,126 538,127.4 538.2,128 540,130 540.4,130 542,130.1 542.9,130 544,129.9 546,129.6 548,129.4 550,129.3 552,129.3 554,129.5 556,129.8 557,130 558,130.2 560,130.7 562,131.3 564,131.9 564.9,132 566,132.2 567.4,132 568,131.9 570,130.3 570.2,130 571.5,128 572,127.3 572.7,126 574,124 574,124 575.4,122 576,121.4 577.2,120 578,119.2 579.5,118 580,117.6 582,116.2 582.4,116 584,115 586,114.1 586.3,114 588,113.2 590,112.3 591,112 592,111.3 593.6,110 593.2,108 592,106 592,106 590.8,104 590,102.6 589.7,102 588.8,100 588.1,98 588,97.7 587.6,96 587.3,94 587.3,92 587.5,90 588,88.2 588,88 588.8,86 590,84 590,84 591.7,82 592,81.7 594,80 594.1,80 596,78.9 598,78.1 598.5,78 600,77.6 602,77.4 604,77.5 606,77.8 606.7,78 608,78.4 610,79.2 611.4,80 612,80.4 614,81.9 614.2,82 616,83.7 616.4,84 618,85.6 618.5,86 620,87.4 622,87.7 623.9,86 624,86 625.5,84 626,83.5 627.1,82 628,81 628.8,80 630,78.8 630.8,78 632,77 633.4,76 634,75.6 636,74.4 636.9,74ZM374,87.6 376,87.7 377,88 378,88.4 380,90 380,90 381.1,92 381.6,94 381.5,96 380.7,98 380,98.9 378.6,100 378,100.3 376,100.8 374,100.7 372,100.1 371.8,100 370,98.5 369.6,98 368.6,96 368.3,94 368.7,92 369.7,90 370,89.7 372,88.2 372.6,88ZM640,75.9 642,75.4 644,75.2 646,75.2 648,75.5 649.7,76 650,76.1 652,76.9 653.8,78 654,78.1 656,79.8 656.2,80 657.9,82 658,82.1 659.1,84 660,86 660,86.1 660.6,88 660.9,90 660.9,92 660.7,94 660.2,96 660,96.5 659.4,98 658.3,100 658,100.5 656.8,102 656,102.8 654.6,104 654,104.5 652,105.7 651.2,106 650,106.5 648,107.1 646,107.4 644,107.4 642,107.2 640,106.7 638.2,106 638,105.9 636,104.9 634.8,104 634,103.4 632.5,102 632,101.5 630.7,100 630,98.8 629.4,98 628.5,96 628,94.2 627.9,94 627.6,92 627.7,90 628,88.8 628.1,88 628.8,86 629.9,84 630,83.9 631.3,82 632,81.2 633.1,80 634,79.2 635.7,78 636,77.8 638,76.7 639.8,76ZM600,81.5 602,81.3 604,81.3 606,81.8 606.6,82 608,82.6 610,83.9 610.2,84 612,85.8 612.2,86 613.5,88 614,89.2 614.3,90 614.7,92 614.6,94 614,96 614,96 613,98 612,99.4 611.5,100 610,101.4 609.3,102 608,102.9 606,103.8 605.3,104 604,104.4 602,104.6 600,104.5 598.5,104 598,103.8 596,102.7 595.2,102 594,100.7 593.5,100 592.3,98 592,97.2 591.6,96 591.2,94 591.2,92 591.5,90 592,88.4 592.1,88 593.3,86 594,85.2 595.2,84 596,83.3 598,82.2 598.6,82ZM446,91.8 448,91.9 448.8,92 450,92.2 452,92.8 454,93.7 454.5,94 456,95 457.2,96 458,96.8 459,98 460,99.5 460.3,100 461.3,102 461.9,104 462,104.4 462.4,106 462.6,108 462.6,110 462.5,112 462.2,114 462,114.7 461.7,116 460.7,118 460,118.8 458.7,120 458,120.4 456,121.4 454.3,122 454,122.1 452,122.6 450,122.9 448,123.1 446,123 444,122.8 442,122.4 440.9,122 440,121.7 438,120.9 436.3,120 436,119.8 434,118.5 433.1,118 432,117.1 430.6,116 430,115.2 428.7,114 428.4,112 428.6,110 429.1,108 429.7,106 430,105.4 430.5,104 431.4,102 432,101 432.5,100 434,98 434,98 435.9,96 436,95.9 438,94.4 438.6,94 440,93.3 442,92.5 444,92 444.3,92ZM402,105.4 404,104.8 406,104.6 408,104.5 410,104.7 412,105 414,105.7 414.9,106 416,106.5 418,107.5 418.9,108 420,108.7 421.8,110 422,110.2 424,111.8 424.3,112 425.9,114 426,115.1 426.2,116 426,116.7 425.9,118 425.5,120 424.8,122 424,124 424,124.1 423.2,126 422,128 422,128.1 420.6,130 420,130.7 418.8,132 418,132.7 416.2,134 416,134.1 414,135.1 412,135.8 411.1,136 410,136.2 408,136.4 406,136.3 404.1,136 404,136 402,135.4 400,134.5 399.1,134 398,133.3 396.4,132 396,131.6 394.6,130 394,129.1 393.3,128 392.4,126 392,124.6 391.8,124 391.5,122 391.4,120 391.5,118 391.9,116 392,115.7 392.5,114 393.5,112 394,111.3 394.9,110 396,108.9 397,108 398,107.3 400,106.2 400.4,106ZM514,105.4 516,105 518,104.8 520,104.9 522,105.2 524,105.9 524.3,106 526,106.8 527.8,108 528,108.2 529.9,110 530,110.1 531.4,112 532,113 532.5,114 533.3,116 533.8,118 534,119.8 534,120 534.1,122 534,122.7 533.9,124 533.5,126 532.8,128 532,129.5 531.7,130 530,131.9 529.9,132 528,133.4 526.8,134 526,134.4 524,135.1 522,135.5 520,135.7 518,135.7 516,135.6 514,135.2 512,134.5 510.8,134 510,133.6 508,132.5 507.2,132 506,131 504.7,130 504,129.2 502.9,128 502,126 502,126 501.5,124 501.5,122 501.8,120 502,119.3 502.3,118 503,116 503.9,114 504,113.9 505.1,112 506,110.9 506.8,110 508,108.8 509,108 510,107.3 512,106.2 512.5,106ZM586,117.8 588,117.1 590,116.8 592,116.6 594,116.8 596,117.4 597.3,118 598,118.3 600,119.8 600.2,120 602,121.9 602.1,122 603.5,124 604,124.8 604.6,126 605.4,128 605.8,130 606,131.3 606.1,132 606.1,134 606,134.5 605.8,136 605.3,138 604.4,140 604,140.7 603.2,142 602,143.5 601.5,144 600,145.3 599,146 598,146.6 596,147.5 594.4,148 594,148.1 592,148.5 590,148.6 588,148.4 586,148 586,148 584,147.4 582,146.6 580.8,146 580,145.6 578,144.3 577.5,144 576,142.7 575.1,142 574,140.3 573.7,140 573.2,138 573.2,136 573.5,134 574,132.1 574,132 574.6,130 575.4,128 576,126.9 576.5,126 577.8,124 578,123.7 579.5,122 580,121.5 581.9,120 582,119.9 584,118.7 585.6,118ZM470,119.8 472,119.1 474,118.7 476,118.4 478,118.3 480,118.4 482,118.7 484,119.3 485.9,120 486,120 488,121 489.6,122 490,122.3 492,123.8 492.2,124 494,126 494,126 495.3,128 495.7,130 495.7,132 495.5,134 495,136 494.3,138 494,138.6 493.4,140 492.2,142 492,142.2 490.6,144 490,144.7 488.5,146 488,146.4 486,147.6 485.1,148 484,148.5 482,149.1 480,149.4 478,149.4 476,149.1 474,148.6 472.5,148 472,147.8 470,146.6 469.2,146 468,145 467.1,144 466,142.6 465.6,142 464.5,140 464,138.6 463.8,138 463.3,136 463,134 462.8,132 462.9,130 463.2,128 463.6,126 464,125 464.4,124 466,122.1 466.1,122 468,120.7 469.4,120ZM544,134 546,133.2 548,132.7 550,132.5 552,132.4 554,132.5 556,132.9 558,133.4 559.5,134 560,134.2 562,135.2 563.5,136 564,136.4 566,137.8 566.3,138 568,139.7 568.3,140 569.4,142 569.6,144 569.5,146 569.2,148 568.6,150 568,151.7 567.9,152 567.1,154 566,155.9 565.9,156 564.5,158 564,158.5 562.5,160 562,160.4 560,161.8 559.7,162 558,162.8 556,163.5 554,163.9 552,164 550,163.9 548,163.5 546,162.8 544.4,162 544,161.8 542,160.4 541.5,160 540,158.4 539.7,158 538.3,156 538,155.4 537.3,154 536.6,152 536.2,150 536,148 536.1,146 536.3,144 536.7,142 537.4,140 538,139 538.6,138 540,136.5 540.5,136 542,135 543.9,134ZM642,77.9 644,77.7 646,77.7 647.8,78 648,78 650,78.7 652,79.7 652.4,80 654,81.2 654.8,82 656,83.5 656.3,84 657.4,86 658,87.9 658,88 658.4,90 658.4,92 658.2,94 658,94.6 657.6,96 656.7,98 656,99.1 655.3,100 654,101.4 653.2,102 652,102.9 650,103.9 649.7,104 648,104.6 646,104.9 644,104.9 642,104.7 640,104.1 639.8,104 638,103.2 636.2,102 636,101.8 634.1,100 634,99.9 632.6,98 632,96.9 631.6,96 630.9,94 630.7,92 630.7,90 631.1,88 631.9,86 632,85.8 633,84 634,82.7 634.7,82 636,80.8 637.1,80 638,79.4 640,78.5 641.8,78ZM600,85.6 602,85.1 604,85.3 606,85.9 606.2,86 608,87.4 608.6,88 609.8,90 610,90.8 610.3,92 610.1,94 610,94.5 609.4,96 608,98 608,98 606,99.4 604.5,100 604,100.2 602,100.3 600.1,100 600,100 598,98.8 597.1,98 596,96.5 595.7,96 595.1,94 595,92 595.5,90 596,89 596.6,88 598,86.7 599.1,86ZM442,95.2 444,94.6 446,94.4 448,94.4 450,94.8 452,95.5 452.9,96 454,96.7 455.6,98 456,98.4 457.3,100 458,101.1 458.5,102 459.2,104 459.7,106 459.8,108 459.7,110 459.3,112 458.6,114 458,114.9 457.3,116 456,117.3 455.1,118 454,118.7 452,119.6 450.5,120 450,120.1 448,120.4 446,120.4 444,120.2 443.4,120 442,119.6 440,118.8 438.6,118 438,117.6 436.1,116 436,115.9 434.4,114 434,113.2 433.4,112 432.9,110 432.8,108 433,106 433.6,104 434,103.1 434.5,102 435.7,100 436,99.7 437.5,98 438,97.6 440,96.1 440.3,96ZM404,107.4 406,107 408,107 410,107.2 412,107.7 412.9,108 414,108.4 416,109.5 416.7,110 418,111.1 419,112 420,113.3 420.5,114 421.4,116 421.8,118 421.9,120 421.6,122 421.1,124 420.2,126 420,126.4 419,128 418,129.3 417.3,130 416,131.2 414.7,132 414,132.5 412,133.3 410,133.8 408.3,134 408,134 407.3,134 406,133.9 404,133.6 402,132.9 400.4,132 400,131.8 398,130.2 397.8,130 396.2,128 396,127.7 395.1,126 394.4,124 394,122.1 394,122 393.9,120 394,118.9 394.1,118 394.6,116 395.4,114 396,113.1 396.8,112 398,110.7 398.8,110 400,109.1 402,108.1 402.2,108ZM516,107.6 518,107.4 520,107.5 522,107.9 522.3,108 524,108.7 526,109.9 526.2,110 528,111.7 528.3,112 529.6,114 530,114.7 530.6,116 531.1,118 531.4,120 531.3,122 531,124 530.3,126 530,126.6 529.2,128 528,129.4 527.4,130 526,131 524.2,132 524,132.1 522,132.7 520,133.1 518,133.1 516,132.9 514,132.4 513,132 512,131.6 510,130.4 509.5,130 508,128.6 507.4,128 506.1,126 506,125.7 505.3,124 505,122 505,120 505.3,118 506,116 506,116 507,114 508,112.6 508.4,112 510,110.5 510.6,110 512,109.1 514,108.1 514.5,108ZM590,119.7 592,119.7 593.8,120 594,120 596,120.7 598,121.9 598.1,122 600,123.7 600.2,124 601.7,126 602,126.7 602.6,128 603.2,130 603.5,132 603.5,134 603.2,136 602.5,138 602,139.1 601.5,140 600,141.9 599.9,142 598,143.6 597.4,144 596,144.8 594,145.5 592,145.9 590,146 588,145.8 586,145.3 584,144.5 583.1,144 582,143.3 580.4,142 580,141.6 578.7,140 578,138.7 577.6,138 577.1,136 576.9,134 577.1,132 577.6,130 578,129 578.4,128 579.5,126 580,125.4 581.2,124 582,123.2 583.6,122 584,121.7 586,120.7 588,120 588.3,120ZM474,121.6 476,121.2 478,121 480,121.1 482,121.4 483.8,122 484,122.1 486,123 487.4,124 488,124.5 489.6,126 490,126.6 491,128 491.8,130 492,131.1 492.2,132 492.2,134 492,135.3 491.9,136 491.3,138 490.3,140 490,140.5 488.9,142 488,143 486.9,144 486,144.6 484,145.7 483.2,146 482,146.4 480,146.8 478,146.8 476,146.5 474.3,146 474,145.9 472,144.9 470.8,144 470,143.3 468.8,142 468,140.9 467.4,140 466.5,138 466,136.1 466,136 465.7,134 465.7,132 466,130.3 466,130 466.7,128 467.8,126 468,125.7 469.6,124 470,123.7 472,122.4 473.1,122ZM548,135.5 550,135.1 552,135 554,135.1 556,135.5 557.3,136 558,136.3 560,137.3 561.1,138 562,138.8 563.3,140 564,141 564.7,142 565.5,144 565.8,146 565.9,148 565.6,150 565,152 564.1,154 564,154.2 562.8,156 562,157 561,158 560,158.8 558.1,160 558,160.1 556,160.9 554,161.3 552,161.5 550,161.3 548,160.9 546,160 545.9,160 544,158.8 543.1,158 542,156.9 541.3,156 540.1,154 540,153.8 539.3,152 538.8,150 538.6,148 538.7,146 539.2,144 539.9,142 540,141.8 541.1,140 542,139 543,138 544,137.3 546,136.2 546.5,136ZM644,79.9 646,80 646.3,80 648,80.4 650,81.2 651.4,82 652,82.5 653.5,84 654,84.6 654.9,86 655.7,88 656,89.3 656.1,90 656.2,92 656,93.2 655.9,94 655.2,96 654,98 654,98 652.2,100 652,100.1 650,101.4 648.7,102 648,102.3 646,102.7 644,102.7 642,102.4 640.9,102 640,101.7 638,100.5 637.3,100 636,98.7 635.4,98 634.2,96 634,95.5 633.5,94 633.1,92 633.2,90 633.7,88 634,87.2 634.5,86 635.9,84 636,83.9 638,82.1 638.1,82 640,80.9 642,80.2 643.4,80ZM442,97.8 444,97.1 446,96.8 448,96.8 450,97.3 451.6,98 452,98.2 454,99.8 454.2,100 455.8,102 456,102.4 456.7,104 457.2,106 457.3,108 457.1,110 456.5,112 456,112.9 455.3,114 454,115.4 453.2,116 452,116.7 450,117.5 448,117.9 446,118 444,117.7 442,117 440.2,116 440,115.9 438,114.1 437.9,114 436.6,112 436,110.4 435.9,110 435.6,108 435.8,106 436,105.1 436.3,104 437.3,102 438,101 438.9,100 440,99 441.6,98ZM404,109.8 406,109.4 408,109.3 410,109.5 411.7,110 412,110.1 414,111.1 415.3,112 416,112.7 417.2,114 418,115.3 418.4,116 419,118 419.2,120 419.1,122 418.5,124 418,125.1 417.6,126 416.1,128 416,128.1 414,129.8 413.7,130 412,130.9 410,131.6 408,131.8 406,131.7 404,131.3 402,130.4 401.4,130 400,129 399,128 398,126.6 397.6,126 396.7,124 396.3,122 396.2,120 396.4,118 397.1,116 398,114.3 398.2,114 400,112 400,112 402,110.7 403.5,110ZM518,109.8 520,109.9 520.3,110 522,110.4 524,111.4 524.8,112 526,113.1 526.8,114 528,116 528,116.1 528.6,118 528.9,120 528.8,122 528.3,124 528,124.7 527.3,126 526,127.6 525.6,128 524,129.2 522.3,130 522,130.1 520,130.6 518,130.7 516,130.4 514.6,130 514,129.8 512,128.7 511.2,128 510,126.8 509.3,126 508.3,124 508,122.9 507.8,122 507.7,120 508,118 508,118 508.7,116 509.9,114 510,113.9 511.9,112 512,112 514,110.8 516,110.1 516.5,110ZM476,123.8 478,123.5 480,123.5 482,124 482.1,124 484,124.8 485.8,126 486,126.1 487.7,128 488,128.5 488.8,130 489.4,132 489.5,134 489.2,136 488.6,138 488,139 487.4,140 486,141.6 485.5,142 484,143 482,143.9 481.6,144 480,144.3 478,144.4 476,144 475.9,144 474,143.2 472.1,142 472,141.9 470.3,140 470,139.6 469.1,138 468.5,136 468.2,134 468.3,132 468.8,130 469.8,128 470,127.7 471.6,126 472,125.6 474,124.4 475.2,124ZM586,123.4 588,122.6 590,122.3 592,122.3 594,122.8 596,123.7 596.5,124 598,125.3 598.7,126 600,128 600,128 600.8,130 601.1,132 601.1,134 600.7,136 600,137.8 599.9,138 598.5,140 598,140.5 596.1,142 596,142.1 594,143 592,143.5 590,143.6 588,143.3 586,142.7 584.7,142 584,141.6 582.2,140 582,139.8 580.8,138 580,136 580,136 579.7,134 579.8,132 580,131 580.3,130 581.2,128 582,126.7 582.6,126 584,124.7 585,124ZM550,137.5 552,137.3 554,137.5 555.9,138 556,138 558,139 559.5,140 560,140.5 561.4,142 562,143.1 562.5,144 563.1,146 563.2,148 563,150 562.4,152 562,152.8 561.3,154 560,155.7 559.7,156 558,157.4 556.8,158 556,158.4 554,159 552,159.2 550,159 548,158.4 547.2,158 546,157.3 544.4,156 544,155.6 542.8,154 542,152.5 541.8,152 541.2,150 541,148 541.2,146 541.8,144 542,143.6 542.9,142 544,140.6 544.7,140 546,139 548,138 548.1,138ZM640,83.5 642,82.6 644,82.1 646,82.2 648,82.7 650,83.7 650.3,84 652,85.6 652.3,86 653.4,88 653.9,90 654,92 653.6,94 652.7,96 652,96.9 651,98 650,98.8 648,99.9 647.7,100 646,100.4 644,100.5 642,100.1 641.8,100 640,99.1 638.5,98 638,97.5 636.8,96 636,94.3 635.9,94 635.5,92 635.6,90 636,88.4 636.1,88 637.2,86 638,85.1 639.2,84ZM444,99.6 446,99.2 448,99.3 450,99.9 450.1,100 452,101.3 452.7,102 454,103.9 454.1,104 454.7,106 454.8,108 454.4,110 454,111 453.5,112 452,113.6 451.5,114 450,114.8 448,115.4 446,115.5 444,115.1 442,114.2 441.7,114 440,112.4 439.7,112 438.7,110 438.3,108 438.4,106 439.1,104 440,102.5 440.4,102 442,100.6 443.1,100ZM406,111.7 408,111.5 410,111.8 410.4,112 412,112.6 414,114 414,114 415.6,116 416,116.9 416.5,118 416.8,120 416.6,122 416,124 416,124 414.8,126 414,126.9 412.6,128 412,128.4 410,129.2 408,129.6 406,129.4 404,128.9 402.4,128 402,127.7 400.3,126 400,125.5 399.2,124 398.6,122 398.5,120 398.8,118 399.7,116 400,115.5 401.3,114 402,113.4 404,112.2 404.7,112ZM514,113.6 516,112.7 518,112.3 520,112.5 522,113.2 523.2,114 524,114.7 525.1,116 526,117.9 526,118 526.4,120 526.2,122 526,122.6 525.4,124 524,126 524,126 522,127.3 520.1,128 520,128 518,128.2 516.9,128 516,127.8 514,126.9 512.8,126 512,125.1 511.3,124 510.5,122 510.3,120 510.7,118 511.6,116 512,115.5 513.5,114ZM588,125.2 590,124.8 592,124.9 594,125.5 594.8,126 596,126.9 597,128 598,129.6 598.2,130 598.7,132 598.6,134 598.1,136 598,136.3 596.9,138 596,139 594.6,140 594,140.4 592,141 590,141.1 588,140.8 586.3,140 586,139.9 584,138.1 583.9,138 582.8,136 582.3,134 582.4,132 583,130 584,128.2 584.1,128 586,126.2 586.4,126ZM474,127.5 476,126.5 478,126 480,126.1 482,126.7 484,127.8 484.2,128 485.9,130 486,130.3 486.7,132 486.9,134 486.6,136 486,137.4 485.7,138 484,140 484,140 482,141.2 480,141.8 478,141.9 476,141.4 474,140.3 473.7,140 472,138.1 471.9,138 471.1,136 470.8,134 471,132 471.7,130 472,129.6 473.4,128ZM550,139.9 552,139.7 554,139.9 554.2,140 556,140.7 558,142 558,142 559.6,144 560,144.9 560.4,146 560.7,148 560.5,150 560,151.4 559.7,152 558.3,154 558,154.3 556,155.8 555.5,156 554,156.5 552,156.8 550,156.5 548.5,156 548,155.8 546,154.3 545.7,154 544.3,152 544,151.1 543.6,150 543.5,148 543.7,146 544,145.2 544.6,144 546,142.1 546.1,142 548,140.7 549.8,140ZM642,85.2 644,84.6 646,84.7 648,85.4 648.9,86 650,87.1 650.7,88 651.4,90 651.5,92 650.9,94 650,95.6 649.6,96 648,97.2 646,98 644.9,98 644,98 643.9,98 642,97.4 640,96.1 639.9,96 638.6,94 638,92.1 638,92 638,91.7 638.1,90 638.9,88 640,86.5 640.6,86ZM444,102.8 446,102.1 448,102.3 450,103.4 450.6,104 451.7,106 451.8,108 451.1,110 450,111.3 449,112 448,112.4 446,112.5 444.1,112 444,112 442,110.1 442,110 441.3,108 441.5,106 442,104.8 442.6,104ZM404,115.1 406,114.2 408,114 410,114.5 412,115.7 412.3,116 413.7,118 414,119.2 414.2,120 414,122 414,122 413.1,124 412,125.3 411.1,126 410,126.6 408,127.1 406,126.9 404,126.1 403.9,126 402,124.1 401.9,124 401.1,122 401,120 401.5,118 402,117.1 402.9,116ZM516,115.9 518,115.4 520,115.6 520.8,116 522,117 522.7,118 523.3,120 522.9,122 522,123.5 521.5,124 520,124.8 518,125.1 516,124.5 515.3,124 514,122.5 513.8,122 513.5,120 514,118 514,117.9 515.9,116ZM590,127.8 592,127.9 592.2,128 594,129.1 594.8,130 595.7,132 595.7,134 594.8,136 594,136.9 592.1,138 592,138 590,138.2 589.2,138 588,137.6 586.2,136 586,135.6 585.4,134 585.4,132 586,130.5 586.3,130 588,128.5 589.2,128ZM476,129.9 478,129.1 480,129.2 481.7,130 482,130.2 483.3,132 483.8,134 483.3,136 482,137.7 481.6,138 480,138.7 478,138.8 476,138 476,138 474.3,136 474,134.8 473.8,134 474,133 474.2,132 475.8,130ZM548,144 550,142.9 552,142.5 554,142.8 556,143.9 556.1,144 557.4,146 557.9,148 557.6,150 556.5,152 556,152.5 554,153.7 552.6,154 552,154.1 551.4,154 550,153.7 548,152.4 547.6,152 546.5,150 546.2,148 546.7,146 548,144ZM644,87.9 646,88 646,88 648,89.9 648,90 648.2,92 648,92.5 646.8,94 646,94.5 644,94.6 642.7,94 642,93.2 641.4,92 641.6,90 642,89.3 643.8,88ZM406,117.9 408,117.6 409,118 410,118.9 410.5,120 410.2,122 410,122.3 408,123.5 406,123.1 405,122 404.6,120 405.9,118ZM552,147.9 552.2,148 552,148.2 551.9,148Z" fill="none" stroke="#000" stroke-opacity="0.5" stroke-width="1.2"/>
<path d="M400,153.9 399.2,154 398,154.1 396,154.7 394,155.9 393.8,156 392,158 392,158 391.1,160 390.6,162 390.6,164 391,166 391.9,168 392,168.2 393.4,170 394,170.6 396,172 396.1,172 398,172.7 400,173.1 402,173 404,172.5 405.1,172 406,171.5 407.8,170 408,169.8 409.3,168 410,166.5 410.2,166 410.6,164 410.5,162 410,160 410,160 408.9,158 408,157 406.8,156 406,155.5 404,154.6 402,154.1 400.9,154Z" fill="none" stroke="#000" stroke-opacity="0.5" stroke-width="1.2" stroke-dasharray="3,2.2"/>
<g stroke-width="1.2" stroke-linecap="butt"><line x1="407.5" y1="120.6" x2="391.5" y2="107.7" stroke="#000000"/><line x1="391.5" y1="107.7" x2="375.6" y2="94.7" stroke="#ff0000"/><line x1="409.8" y1="121" x2="406.3" y2="142.1" stroke="#000000"/><line x1="406.3" y1="142.1" x2="402.8" y2="163.3" stroke="#ff0000"/><line x1="405.2" y1="120.2" x2="401.8" y2="141.4" stroke="#000000"/><line x1="401.8" y1="141.4" x2="398.3" y2="162.5" stroke="#ff0000"/><line x1="407.5" y1="120.6" x2="446.6" y2="107.3" stroke="#000000"/><line x1="446.6" y1="107.3" x2="478.8" y2="134" stroke="#000000"/><line x1="478.8" y1="134" x2="518.4" y2="120.2" stroke="#000000"/><line x1="518.4" y1="120.2" x2="552" y2="148.3" stroke="#000000"/><path d="M590.6,133 L550.6,144.9 L553.4,151.7Z" fill="#000"/><line x1="590.6" y1="133" x2="595.9" y2="115" stroke="#000000"/><line x1="595.9" y1="115" x2="601.2" y2="96.9" stroke="#cccc00"/><line x1="607" y1="92.5" x2="640.3" y2="91.4" stroke="#cccc00"/><line x1="646.3" y1="95.5" x2="652.5" y2="113.4" stroke="#cccc00"/><line x1="652.5" y1="113.4" x2="658.7" y2="131.2" stroke="#000000"/><line x1="658.7" y1="131.2" x2="625.6" y2="156.7" stroke="#000000"/><line x1="625.6" y1="156.7" x2="590.6" y2="133" stroke="#000000"/></g>
<text x="374" y="97.6" text-anchor="end" font-size="11" fill="#ff0000">HO</text>
<text x="400.6" y="172.7" text-anchor="middle" font-size="11" fill="#ff0000">O</text>
<text x="602.5" y="96.6" text-anchor="middle" font-size="11" fill="#cccc00">S</text>
<text x="644.8" y="95.3" text-anchor="middle" font-size="11" fill="#cccc00">S</text>
<rect x="38.9" y="278.2" width="289.1" height="215.2" fill="#eaeaf2"/>
<line x1="44.3" y1="278.2" x2="44.3" y2="493.4" stroke="#fff" stroke-width="1"/>
<line x1="92.54" y1="278.2" x2="92.54" y2="493.4" stroke="#fff" stroke-width="1"/>
<line x1="140.78" y1="278.2" x2="140.78" y2="493.4" stroke="#fff" stroke-width="1"/>
<line x1="189.02" y1="278.2" x2="189.02" y2="493.4" stroke="#fff" stroke-width="1"/>
<line x1="237.26" y1="278.2" x2="237.26" y2="493.4" stroke="#fff" stroke-width="1"/>
<line x1="285.5" y1="278.2" x2="285.5" y2="493.4" stroke="#fff" stroke-width="1"/>
<line x1="38.9" y1="463.28" x2="328" y2="463.28" stroke="#fff" stroke-width="1"/>
<line x1="38.9" y1="432.45" x2="328" y2="432.45" stroke="#fff" stroke-width="1"/>
<line x1="38.9" y1="401.62" x2="328" y2="401.62" stroke="#fff" stroke-width="1"/>
<line x1="38.9" y1="370.8" x2="328" y2="370.8" stroke="#fff" stroke-width="1"/>
<line x1="38.9" y1="339.98" x2="328" y2="339.98" stroke="#fff" stroke-width="1"/>
<line x1="38.9" y1="309.15" x2="328" y2="309.15" stroke="#fff" stroke-width="1"/>
<line x1="38.9" y1="278.33" x2="328" y2="278.33" stroke="#fff" stroke-width="1"/>
<g fill="#267c60" fill-opacity="0.5" stroke="#fff" stroke-opacity="0.5" stroke-width="0.9"><rect x="82.3" y="486.8" width="9.23" height="6.6"/><rect x="91.53" y="470.2" width="9.23" height="23.2"/><rect x="100.77" y="414.8" width="9.23" height="78.6"/><rect x="110" y="358.5" width="9.23" height="134.9"/><rect x="119.24" y="296.4" width="9.23" height="197"/><rect x="128.47" y="289.9" width="9.23" height="203.5"/><rect x="137.71" y="288" width="9.23" height="205.4"/><rect x="146.94" y="365.2" width="9.23" height="128.2"/><rect x="156.18" y="375" width="9.23" height="118.4"/><rect x="165.41" y="382.4" width="9.23" height="111"/><rect x="174.65" y="414.8" width="9.23" height="78.6"/><rect x="183.88" y="431.9" width="9.23" height="61.5"/><rect x="193.12" y="422.1" width="9.23" height="71.3"/><rect x="202.35" y="460.8" width="9.23" height="32.6"/><rect x="211.59" y="470" width="9.23" height="23.4"/><rect x="220.82" y="466.9" width="9.23" height="26.5"/><rect x="230.06" y="476.6" width="9.23" height="16.8"/><rect x="239.3" y="470" width="9.23" height="23.4"/><rect x="248.53" y="489.5" width="9.23" height="3.9"/><rect x="276.24" y="456.1" width="9.23" height="37.3"/></g>
<path d="M82.2,493.9 L83.2,493.5 L84.2,492.6 L85.2,491.3 L86.2,489.6 L87.2,487.4 L88.2,484.7 L89.2,481.6 L90.2,478.1 L91.2,474.2 L92.2,469.9 L93.2,465.4 L94.2,460.6 L95.2,455.5 L96.2,450.2 L97.2,444.8 L98.2,439.2 L99.2,433.6 L100.2,427.8 L101.2,422.1 L102.2,416.3 L103.2,410.6 L104.2,404.9 L105.2,399.3 L106.2,393.7 L107.2,388.3 L108.2,383.0 L109.2,377.9 L110.2,372.9 L111.2,368.1 L112.2,363.5 L113.2,359.1 L114.2,354.9 L115.2,350.9 L116.2,347.1 L117.2,343.5 L118.2,340.2 L119.2,337.0 L120.2,334.1 L121.2,331.4 L122.2,329.0 L123.2,326.8 L124.2,324.7 L125.2,323.0 L126.2,321.4 L127.2,320.0 L128.2,318.8 L129.2,317.9 L130.2,317.1 L131.2,316.5 L132.2,316.1 L133.2,315.9 L134.2,315.9 L135.2,316.0 L136.2,316.3 L137.2,316.7 L138.2,317.3 L139.2,318.0 L140.2,318.8 L141.2,319.8 L142.2,320.9 L143.2,322.1 L144.2,323.5 L145.2,324.9 L146.2,326.4 L147.2,328.0 L148.2,329.7 L149.2,331.5 L150.2,333.3 L151.2,335.2 L152.2,337.2 L153.2,339.2 L154.2,341.3 L155.2,343.4 L156.2,345.6 L157.2,347.8 L158.2,350.0 L159.2,352.3 L160.2,354.6 L161.2,356.9 L162.2,359.2 L163.2,361.6 L164.2,363.9 L165.2,366.3 L166.2,368.7 L167.2,371.0 L168.2,373.4 L169.2,375.7 L170.2,378.1 L171.2,380.4 L172.2,382.8 L173.2,385.1 L174.2,387.4 L175.2,389.7 L176.2,392.0 L177.2,394.2 L178.2,396.4 L179.2,398.6 L180.2,400.8 L181.2,403.0 L182.2,405.1 L183.2,407.2 L184.2,409.3 L185.2,411.3 L186.2,413.3 L187.2,415.3 L188.2,417.3 L189.2,419.2 L190.2,421.1 L191.2,422.9 L192.2,424.8 L193.2,426.6 L194.2,428.3 L195.2,430.1 L196.2,431.8 L197.2,433.4 L198.2,435.0 L199.2,436.6 L200.2,438.2 L201.2,439.7 L202.2,441.2 L203.2,442.7 L204.2,444.1 L205.2,445.6 L206.2,446.9 L207.2,448.3 L208.2,449.6 L209.2,450.9 L210.2,452.1 L211.2,453.3 L212.2,454.5 L213.2,455.7 L214.2,456.8 L215.2,457.9 L216.2,459.0 L217.2,460.1 L218.2,461.1 L219.2,462.1 L220.2,463.1 L221.2,464.0 L222.2,464.9 L223.2,465.8 L224.2,466.7 L225.2,467.5 L226.2,468.4 L227.2,469.2 L228.2,470.0 L229.2,470.7 L230.2,471.5 L231.2,472.2 L232.2,472.9 L233.2,473.6 L234.2,474.2 L235.2,474.9 L236.2,475.5 L237.2,476.1 L238.2,476.7 L239.2,477.2 L240.2,477.8 L241.2,478.3 L242.2,478.8 L243.2,479.3 L244.2,479.8 L245.2,480.3 L246.2,480.8 L247.2,481.2 L248.2,481.6 L249.2,482.1 L250.2,482.5 L251.2,482.9 L252.2,483.2 L253.2,483.6 L254.2,484.0 L255.2,484.3 L256.2,484.6 L257.2,485.0 L258.2,485.3 L259.2,485.6 L260.2,485.9 L261.2,486.2 L262.2,486.4 L263.2,486.7 L264.2,487.0 L265.2,487.2 L266.2,487.5 L267.2,487.7 L268.2,487.9 L269.2,488.1 L270.2,488.3 L271.2,488.5 L272.2,488.7 L273.2,488.9 L274.2,489.1 L275.2,489.3 L276.2,489.5 L277.2,489.6 L278.2,489.8 L279.2,489.9 L280.2,490.1 L281.2,490.2 L282.2,490.4 L283.2,490.5 L284.2,490.6 L285.2,490.8 L286.2,490.9 L287.2,491.0 L288.2,491.1 L289.2,491.2 L290.2,491.3 L291.2,491.4 L292.2,491.5 L293.2,491.6 L294.2,491.7 L295.2,491.8 L296.2,491.9 L297.2,492.0 L298.2,492.0 L299.2,492.1 L300.2,492.2 L301.2,492.3 L302.2,492.3 L303.2,492.4 L304.2,492.5 L305.2,492.5 L306.2,492.6 L307.2,492.6 L308.2,492.7 L309.2,492.8 L310.2,492.8 L311.2,492.9 L312.2,492.9 L313.2,492.9 L314.2,493.0 L315.2,493.0 L316.0,493.1" fill="none" stroke="#262626" stroke-width="1.5" stroke-linejoin="round" stroke-linecap="round"/>
<line x1="118.7" y1="278.2" x2="118.7" y2="493.4" stroke="#ff0000" stroke-width="3"/>
<line x1="150.2" y1="278.2" x2="150.2" y2="493.4" stroke="#0000ff" stroke-width="3"/>
<text x="153.2" y="318" fill="#0000ff" font-size="14.4" textLength="43.5" lengthAdjust="spacingAndGlyphs">Inside</text>
<text x="121.8" y="481.9" fill="#ff0000" font-size="14.4" textLength="71.2" lengthAdjust="spacingAndGlyphs">Threshold</text>
<text x="44.3" y="508.9" text-anchor="middle" font-size="10.0" fill="#262626">0.0</text>
<text x="92.54" y="508.9" text-anchor="middle" font-size="10.0" fill="#262626">0.2</text>
<text x="140.78" y="508.9" text-anchor="middle" font-size="10.0" fill="#262626">0.4</text>
<text x="189.02" y="508.9" text-anchor="middle" font-size="10.0" fill="#262626">0.6</text>
<text x="237.26" y="508.9" text-anchor="middle" font-size="10.0" fill="#262626">0.8</text>
<text x="285.5" y="508.9" text-anchor="middle" font-size="10.0" fill="#262626">1.0</text>
<text x="29.6" y="497.5" text-anchor="end" font-size="10.0" fill="#262626">0.0</text>
<text x="29.6" y="466.68" text-anchor="end" font-size="10.0" fill="#262626">0.5</text>
<text x="29.6" y="435.85" text-anchor="end" font-size="10.0" fill="#262626">1.0</text>
<text x="29.6" y="405.02" text-anchor="end" font-size="10.0" fill="#262626">1.5</text>
<text x="29.6" y="374.2" text-anchor="end" font-size="10.0" fill="#262626">2.0</text>
<text x="29.6" y="343.38" text-anchor="end" font-size="10.0" fill="#262626">2.5</text>
<text x="29.6" y="312.55" text-anchor="end" font-size="10.0" fill="#262626">3.0</text>
<text x="29.6" y="281.73" text-anchor="end" font-size="10.0" fill="#262626">3.5</text>
<text x="183.45" y="521.3" text-anchor="middle" font-size="10.0" fill="#262626" textLength="69.3" lengthAdjust="spacingAndGlyphs">Dice similarity</text>
<text x="1.75" y="286.2" style="font-family:'Liberation Serif',serif;font-weight:bold" font-size="14.5" fill="#000">E</text>
<defs><radialGradient id="g1r0" gradientUnits="userSpaceOnUse" cx="556.5" cy="420.4" r="38.4"><stop offset="0.000" stop-color="#6b6b6b"/><stop offset="0.042" stop-color="#6a6a6a"/><stop offset="0.083" stop-color="#676767"/><stop offset="0.125" stop-color="#636363"/><stop offset="0.167" stop-color="#5d5d5d"/><stop offset="0.208" stop-color="#565656"/><stop offset="0.250" stop-color="#4e4e4e"/><stop offset="0.292" stop-color="#454545"/><stop offset="0.333" stop-color="#3d3d3d"/><stop offset="0.375" stop-color="#343434"/><stop offset="0.417" stop-color="#2c2c2c"/><stop offset="0.458" stop-color="#252525"/><stop offset="0.500" stop-color="#1e1e1e"/><stop offset="0.542" stop-color="#181818"/><stop offset="0.583" stop-color="#131313"/><stop offset="0.625" stop-color="#0e0e0e"/><stop offset="0.667" stop-color="#0b0b0b"/><stop offset="0.708" stop-color="#080808"/><stop offset="0.750" stop-color="#060606"/><stop offset="0.792" stop-color="#040404"/><stop offset="0.833" stop-color="#030303"/><stop offset="0.875" stop-color="#020202"/><stop offset="0.917" stop-color="#010101"/><stop offset="0.958" stop-color="#010101"/><stop offset="1.000" stop-color="#010101"/></radialGradient><radialGradient id="g1r1" gradientUnits="userSpaceOnUse" cx="597.2" cy="405.6" r="38.4"><stop offset="0.000" stop-color="#929292"/><stop offset="0.042" stop-color="#919191"/><stop offset="0.083" stop-color="#8d8d8d"/><stop offset="0.125" stop-color="#878787"/><stop offset="0.167" stop-color="#7f7f7f"/><stop offset="0.208" stop-color="#757575"/><stop offset="0.250" stop-color="#6a6a6a"/><stop offset="0.292" stop-color="#5f5f5f"/><stop offset="0.333" stop-color="#535353"/><stop offset="0.375" stop-color="#474747"/><stop offset="0.417" stop-color="#3c3c3c"/><stop offset="0.458" stop-color="#323232"/><stop offset="0.500" stop-color="#292929"/><stop offset="0.542" stop-color="#212121"/><stop offset="0.583" stop-color="#1a1a1a"/><stop offset="0.625" stop-color="#141414"/><stop offset="0.667" stop-color="#0f0f0f"/><stop offset="0.708" stop-color="#0b0b0b"/><stop offset="0.750" stop-color="#080808"/><stop offset="0.792" stop-color="#060606"/><stop offset="0.833" stop-color="#040404"/><stop offset="0.875" stop-color="#030303"/><stop offset="0.917" stop-color="#020202"/><stop offset="0.958" stop-color="#010101"/><stop offset="1.000" stop-color="#010101"/></radialGradient><radialGradient id="g1r2" gradientUnits="userSpaceOnUse" cx="609.3" cy="365" r="38.4"><stop offset="0.000" stop-color="#8d8d8d"/><stop offset="0.042" stop-color="#8c8c8c"/><stop offset="0.083" stop-color="#888888"/><stop offset="0.125" stop-color="#828282"/><stop offset="0.167" stop-color="#7a7a7a"/><stop offset="0.208" stop-color="#717171"/><stop offset="0.250" stop-color="#666666"/><stop offset="0.292" stop-color="#5b5b5b"/><stop offset="0.333" stop-color="#505050"/><stop offset="0.375" stop-color="#454545"/><stop offset="0.417" stop-color="#3a3a3a"/><stop offset="0.458" stop-color="#303030"/><stop offset="0.500" stop-color="#272727"/><stop offset="0.542" stop-color="#1f1f1f"/><stop offset="0.583" stop-color="#191919"/><stop offset="0.625" stop-color="#131313"/><stop offset="0.667" stop-color="#0e0e0e"/><stop offset="0.708" stop-color="#0b0b0b"/><stop offset="0.750" stop-color="#080808"/><stop offset="0.792" stop-color="#060606"/><stop offset="0.833" stop-color="#040404"/><stop offset="0.875" stop-color="#030303"/><stop offset="0.917" stop-color="#020202"/><stop offset="0.958" stop-color="#010101"/><stop offset="1.000" stop-color="#010101"/></radialGradient><radialGradient id="g1r3" gradientUnits="userSpaceOnUse" cx="632.4" cy="429.6" r="38.4"><stop offset="0.000" stop-color="#9f9f9f"/><stop offset="0.042" stop-color="#9e9e9e"/><stop offset="0.083" stop-color="#9a9a9a"/><stop offset="0.125" stop-color="#939393"/><stop offset="0.167" stop-color="#8a8a8a"/><stop offset="0.208" stop-color="#808080"/><stop offset="0.250" stop-color="#747474"/><stop offset="0.292" stop-color="#676767"/><stop offset="0.333" stop-color="#5a5a5a"/><stop offset="0.375" stop-color="#4e4e4e"/><stop offset="0.417" stop-color="#424242"/><stop offset="0.458" stop-color="#363636"/><stop offset="0.500" stop-color="#2c2c2c"/><stop offset="0.542" stop-color="#232323"/><stop offset="0.583" stop-color="#1c1c1c"/><stop offset="0.625" stop-color="#161616"/><stop offset="0.667" stop-color="#101010"/><stop offset="0.708" stop-color="#0c0c0c"/><stop offset="0.750" stop-color="#090909"/><stop offset="0.792" stop-color="#060606"/><stop offset="0.833" stop-color="#050505"/><stop offset="0.875" stop-color="#030303"/><stop offset="0.917" stop-color="#020202"/><stop offset="0.958" stop-color="#010101"/><stop offset="1.000" stop-color="#010101"/></radialGradient><filter id="cm1r" x="0" y="0" width="1" height="1" filterUnits="objectBoundingBox" color-interpolation-filters="sRGB"><feComponentTransfer><feFuncR type="table" tableValues="1.000 1.000 1.000 1.000 1.000 1.000 1.000 1.000 1.000 1.000 1.000 1.000 0.996 0.992 0.988 0.984 0.980 0.977 0.973 0.968 0.961 0.955 0.948 0.942 0.935 0.929 0.922 0.916 0.909 0.903 0.896 0.890 0.883 0.877 0.871 0.866 0.860 0.854 0.848 0.842 0.836 0.830 0.824 0.819 0.813 0.807 0.802 0.797 0.792 0.787 0.782 0.777 0.772 0.768 0.763 0.758 0.753 0.748 0.743 0.739 0.736 0.733 0.729 0.726 0.723 0.720 0.716 0.713 0.710 0.707 0.703 0.700 0.697 0.694 0.692 0.689 0.687 0.684 0.681 0.679 0.676 0.673 0.671 0.668 0.666 0.663 0.660 0.658 0.655 0.651 0.648 0.644 0.640 0.636 0.632 0.628 0.624"/><feFuncG type="table" tableValues="1.000 1.000 1.000 1.000 1.000 1.000 1.000 1.000 1.000 1.000 1.000 1.000 0.991 0.982 0.973 0.964 0.955 0.946 0.937 0.926 0.911 0.896 0.880 0.865 0.850 0.835 0.820 0.805 0.790 0.775 0.759 0.744 0.729 0.716 0.702 0.688 0.675 0.661 0.648 0.634 0.620 0.607 0.593 0.579 0.566 0.552 0.540 0.529 0.518 0.506 0.495 0.484 0.472 0.461 0.450 0.438 0.427 0.416 0.404 0.395 0.388 0.380 0.373 0.365 0.357 0.350 0.342 0.335 0.327 0.320 0.312 0.305 0.298 0.292 0.285 0.279 0.273 0.267 0.261 0.255 0.249 0.243 0.237 0.231 0.225 0.219 0.213 0.207 0.201 0.192 0.183 0.174 0.165 0.156 0.147 0.138 0.128"/><feFuncB type="table" tableValues="1.000 1.000 1.000 1.000 1.000 1.000 1.000 1.000 1.000 1.000 1.000 1.000 0.991 0.982 0.973 0.965 0.956 0.947 0.938 0.927 0.912 0.898 0.883 0.868 0.853 0.838 0.823 0.809 0.794 0.779 0.764 0.749 0.735 0.721 0.708 0.694 0.681 0.668 0.654 0.641 0.628 0.614 0.601 0.588 0.574 0.561 0.550 0.538 0.527 0.516 0.505 0.494 0.483 0.472 0.460 0.449 0.438 0.427 0.416 0.407 0.400 0.392 0.385 0.377 0.370 0.363 0.355 0.348 0.340 0.333 0.326 0.318 0.311 0.305 0.299 0.294 0.288 0.282 0.276 0.270 0.264 0.258 0.252 0.246 0.240 0.234 0.228 0.222 0.216 0.208 0.199 0.190 0.181 0.172 0.163 0.154 0.146"/></feComponentTransfer></filter><radialGradient id="g1g0" gradientUnits="userSpaceOnUse" cx="376.5" cy="366" r="38.4"><stop offset="0.000" stop-color="#5e5e5e"/><stop offset="0.042" stop-color="#5d5d5d"/><stop offset="0.083" stop-color="#5b5b5b"/><stop offset="0.125" stop-color="#575757"/><stop offset="0.167" stop-color="#515151"/><stop offset="0.208" stop-color="#4b4b4b"/><stop offset="0.250" stop-color="#444444"/><stop offset="0.292" stop-color="#3d3d3d"/><stop offset="0.333" stop-color="#353535"/><stop offset="0.375" stop-color="#2e2e2e"/><stop offset="0.417" stop-color="#272727"/><stop offset="0.458" stop-color="#202020"/><stop offset="0.500" stop-color="#1a1a1a"/><stop offset="0.542" stop-color="#151515"/><stop offset="0.583" stop-color="#101010"/><stop offset="0.625" stop-color="#0d0d0d"/><stop offset="0.667" stop-color="#0a0a0a"/><stop offset="0.708" stop-color="#070707"/><stop offset="0.750" stop-color="#050505"/><stop offset="0.792" stop-color="#040404"/><stop offset="0.833" stop-color="#030303"/><stop offset="0.875" stop-color="#020202"/><stop offset="0.917" stop-color="#010101"/><stop offset="0.958" stop-color="#010101"/><stop offset="1.000" stop-color="#010101"/></radialGradient><radialGradient id="g1g1" gradientUnits="userSpaceOnUse" cx="412.3" cy="390.8" r="38.4"><stop offset="0.000" stop-color="#9f9f9f"/><stop offset="0.042" stop-color="#9e9e9e"/><stop offset="0.083" stop-color="#9a9a9a"/><stop offset="0.125" stop-color="#939393"/><stop offset="0.167" stop-color="#8a8a8a"/><stop offset="0.208" stop-color="#808080"/><stop offset="0.250" stop-color="#747474"/><stop offset="0.292" stop-color="#676767"/><stop offset="0.333" stop-color="#5a5a5a"/><stop offset="0.375" stop-color="#4e4e4e"/><stop offset="0.417" stop-color="#424242"/><stop offset="0.458" stop-color="#363636"/><stop offset="0.500" stop-color="#2c2c2c"/><stop offset="0.542" stop-color="#232323"/><stop offset="0.583" stop-color="#1c1c1c"/><stop offset="0.625" stop-color="#161616"/><stop offset="0.667" stop-color="#101010"/><stop offset="0.708" stop-color="#0c0c0c"/><stop offset="0.750" stop-color="#090909"/><stop offset="0.792" stop-color="#060606"/><stop offset="0.833" stop-color="#050505"/><stop offset="0.875" stop-color="#030303"/><stop offset="0.917" stop-color="#020202"/><stop offset="0.958" stop-color="#010101"/><stop offset="1.000" stop-color="#010101"/></radialGradient><radialGradient id="g1g2" gradientUnits="userSpaceOnUse" cx="404.7" cy="435.5" r="38.4"><stop offset="0.000" stop-color="#4a4a4a"/><stop offset="0.042" stop-color="#494949"/><stop offset="0.083" stop-color="#474747"/><stop offset="0.125" stop-color="#444444"/><stop offset="0.167" stop-color="#404040"/><stop offset="0.208" stop-color="#3b3b3b"/><stop offset="0.250" stop-color="#363636"/><stop offset="0.292" stop-color="#303030"/><stop offset="0.333" stop-color="#2a2a2a"/><stop offset="0.375" stop-color="#242424"/><stop offset="0.417" stop-color="#1e1e1e"/><stop offset="0.458" stop-color="#191919"/><stop offset="0.500" stop-color="#151515"/><stop offset="0.542" stop-color="#101010"/><stop offset="0.583" stop-color="#0d0d0d"/><stop offset="0.625" stop-color="#0a0a0a"/><stop offset="0.667" stop-color="#080808"/><stop offset="0.708" stop-color="#060606"/><stop offset="0.750" stop-color="#040404"/><stop offset="0.792" stop-color="#030303"/><stop offset="0.833" stop-color="#020202"/><stop offset="0.875" stop-color="#010101"/><stop offset="0.917" stop-color="#010101"/><stop offset="0.958" stop-color="#010101"/><stop offset="1.000" stop-color="#000000"/></radialGradient><radialGradient id="g1g3" gradientUnits="userSpaceOnUse" cx="452.2" cy="379.6" r="38.4"><stop offset="0.000" stop-color="#474747"/><stop offset="0.042" stop-color="#474747"/><stop offset="0.083" stop-color="#454545"/><stop offset="0.125" stop-color="#424242"/><stop offset="0.167" stop-color="#3e3e3e"/><stop offset="0.208" stop-color="#393939"/><stop offset="0.250" stop-color="#343434"/><stop offset="0.292" stop-color="#2e2e2e"/><stop offset="0.333" stop-color="#282828"/><stop offset="0.375" stop-color="#232323"/><stop offset="0.417" stop-color="#1d1d1d"/><stop offset="0.458" stop-color="#181818"/><stop offset="0.500" stop-color="#141414"/><stop offset="0.542" stop-color="#101010"/><stop offset="0.583" stop-color="#0c0c0c"/><stop offset="0.625" stop-color="#0a0a0a"/><stop offset="0.667" stop-color="#070707"/><stop offset="0.708" stop-color="#050505"/><stop offset="0.750" stop-color="#040404"/><stop offset="0.792" stop-color="#030303"/><stop offset="0.833" stop-color="#020202"/><stop offset="0.875" stop-color="#010101"/><stop offset="0.917" stop-color="#010101"/><stop offset="0.958" stop-color="#010101"/><stop offset="1.000" stop-color="#000000"/></radialGradient><filter id="cm1g" x="0" y="0" width="1" height="1" filterUnits="objectBoundingBox" color-interpolation-filters="sRGB"><feComponentTransfer><feFuncR type="table" tableValues="1.000 1.000 0.996 0.977 0.958 0.939 0.920 0.897 0.873 0.850 0.827 0.803 0.780 0.754 0.729 0.703 0.678 0.652 0.627 0.601 0.575 0.550 0.529 0.508 0.487 0.465 0.444 0.423 0.402 0.381 0.360 0.345 0.330 0.315 0.300 0.285 0.270 0.255 0.240 0.225 0.210 0.195 0.180 0.172 0.164 0.157 0.149 0.141 0.133 0.126 0.118 0.110 0.102 0.094 0.087 0.079 0.071 0.063 0.056 0.048 0.040 0.040 0.040 0.040 0.040 0.040 0.040 0.040 0.040 0.040 0.040 0.040 0.040 0.040 0.040 0.040 0.040 0.040 0.040 0.040 0.040 0.040 0.040 0.040 0.040 0.040 0.040 0.040 0.040 0.040 0.040 0.040 0.040 0.040 0.040 0.040 0.040"/><feFuncG type="table" tableValues="1.000 1.000 0.998 0.989 0.979 0.970 0.960 0.949 0.937 0.925 0.914 0.902 0.890 0.878 0.865 0.852 0.839 0.827 0.814 0.801 0.789 0.776 0.765 0.755 0.744 0.734 0.723 0.713 0.702 0.692 0.681 0.674 0.666 0.659 0.651 0.644 0.636 0.629 0.621 0.614 0.607 0.599 0.592 0.588 0.584 0.580 0.576 0.572 0.568 0.564 0.561 0.557 0.553 0.549 0.545 0.541 0.537 0.533 0.530 0.526 0.522 0.522 0.522 0.522 0.522 0.522 0.522 0.522 0.522 0.522 0.522 0.522 0.522 0.522 0.522 0.522 0.522 0.522 0.522 0.522 0.522 0.522 0.522 0.522 0.522 0.522 0.522 0.522 0.522 0.522 0.522 0.522 0.522 0.522 0.522 0.522 0.522"/><feFuncB type="table" tableValues="1.000 1.000 0.996 0.977 0.958 0.939 0.920 0.897 0.873 0.850 0.827 0.803 0.780 0.754 0.729 0.703 0.678 0.652 0.627 0.601 0.575 0.550 0.529 0.508 0.487 0.465 0.444 0.423 0.402 0.381 0.360 0.345 0.330 0.315 0.300 0.285 0.270 0.255 0.240 0.225 0.210 0.195 0.180 0.172 0.164 0.157 0.149 0.141 0.133 0.126 0.118 0.110 0.102 0.094 0.087 0.079 0.071 0.063 0.056 0.048 0.040 0.040 0.040 0.040 0.040 0.040 0.040 0.040 0.040 0.040 0.040 0.040 0.040 0.040 0.040 0.040 0.040 0.040 0.040 0.040 0.040 0.040 0.040 0.040 0.040 0.040 0.040 0.040 0.040 0.040 0.040 0.040 0.040 0.040 0.040 0.040 0.040"/></feComponentTransfer></filter></defs>
<g filter="url(#cm1r)"><rect x="340" y="320" width="345" height="180" fill="#000"/><circle cx="556.5" cy="420.4" r="38.4" fill="url(#g1r0)" style="mix-blend-mode:plus-lighter"/><circle cx="597.2" cy="405.6" r="38.4" fill="url(#g1r1)" style="mix-blend-mode:plus-lighter"/><circle cx="609.3" cy="365" r="38.4" fill="url(#g1r2)" style="mix-blend-mode:plus-lighter"/><circle cx="632.4" cy="429.6" r="38.4" fill="url(#g1r3)" style="mix-blend-mode:plus-lighter"/></g>
<g filter="url(#cm1g)" style="mix-blend-mode:multiply"><rect x="340" y="320" width="345" height="180" fill="#000"/><circle cx="376.5" cy="366" r="38.4" fill="url(#g1g0)" style="mix-blend-mode:plus-lighter"/><circle cx="412.3" cy="390.8" r="38.4" fill="url(#g1g1)" style="mix-blend-mode:plus-lighter"/><circle cx="404.7" cy="435.5" r="38.4" fill="url(#g1g2)" style="mix-blend-mode:plus-lighter"/><circle cx="452.2" cy="379.6" r="38.4" fill="url(#g1g3)" style="mix-blend-mode:plus-lighter"/></g>
<path d="M602,349.7 604,348.9 606,348.4 608,348.1 610,348.1 612,348.3 614,348.7 616,349.5 617.1,350 618,350.5 620,351.9 620.1,352 622,353.8 622.2,354 623.6,356 624,356.7 624.7,358 625.5,360 625.9,362 626,362.4 626.2,364 626.2,366 626,367.6 626,368 625.5,370 624.8,372 624,373.5 623.7,374 622.3,376 622,376.4 620.5,378 620,378.5 618.2,380 618,380.2 616,381.6 615.3,382 614,382.9 612.2,384 612,384.2 610,386 610,386 609.4,388 609.8,390 610,390.3 610.7,392 611.7,394 612,394.6 612.6,396 613.5,398 614,399.3 614.3,400 615,402 615.6,404 616,405.7 616.1,406 616.8,408 617.7,410 618,410.4 620,411.6 622,411.8 624,411.7 626,411.5 628,411.3 630,411.2 632,411.3 634,411.5 636,411.9 636.4,412 638,412.5 640,413.3 641.3,414 642,414.4 644,415.9 644.1,416 646,417.9 646.1,418 647.5,420 648,420.8 648.6,422 649.4,424 649.9,426 650,426.6 650.2,428 650.3,430 650.1,432 650,432.5 649.7,434 649.1,436 648.2,438 648,438.3 646.9,440 646,441.2 645.2,442 644,443.2 642.9,444 642,444.7 640,445.8 639.4,446 638,446.6 636,447.1 634,447.4 632,447.5 630,447.3 628,447 626,446.3 625.3,446 624,445.4 622,444.2 621.7,444 620,442.6 619.4,442 618,440.4 617.7,440 616.3,438 616,437.3 615.3,436 614.4,434 614,432.6 613.8,432 613.1,430 612.6,428 612,426.2 611.9,426 610.5,424 610,423.5 608,422.9 606,422.9 604,423.1 602,423.2 600,423.3 598,423.3 596,423.2 594,422.9 592,422.4 590.9,422 590,421.7 588,420.9 586.3,420 586,419.8 584,418.6 583.1,418 582,417.1 580.7,416 580,415.2 578.9,414 578.1,412 578,411.3 577.8,410 578,408 578,407.9 578.3,406 578.8,404 579.5,402 580,400.9 580.3,400 581.4,398 582,397 582.6,396 584,394.3 584.2,394 586,392.2 586.2,392 588,390.5 588.7,390 590,389 591.7,388 592,387.8 594,386.5 594.9,386 596,384.9 596.9,384 597.3,382 596.8,380 596,378.3 595.9,378 595,376 594.1,374 594,373.7 593.4,372 592.8,370 592.5,368 592.3,366 592.3,364 592.6,362 593.1,360 593.9,358 594,357.8 595,356 596,354.6 596.4,354 598,352.4 598.5,352 600,350.9 601.5,350ZM556,405.9 558,405.9 558.7,406 560,406.2 562,406.7 564,407.4 565.3,408 566,408.3 568,409.6 568.7,410 570,411.1 571.1,412 572,413.4 572.5,414 573,416 573,418 572.6,420 572,422 572,422.1 571.3,424 570.3,426 570,426.5 569.1,428 568,429.3 567.4,430 566,431.3 565,432 564,432.7 562,433.7 561,434 560,434.3 558,434.7 556,434.7 554,434.5 552,434 552,434 550,433.2 548.1,432 548,431.9 546,430.2 545.8,430 544.3,428 544,427.4 543.3,426 542.6,424 542.2,422 542.1,420 542.3,418 542.8,416 543.6,414 544,413.3 544.8,412 546,410.5 546.5,410 548,408.7 549.2,408 550,407.5 552,406.7 554,406.1 555.2,406ZM608,355.8 610,355.7 611.5,356 612,356.1 614,357 615.4,358 616,358.6 617.1,360 618,361.8 618.1,362 618.5,364 618.5,366 618.1,368 618,368.3 617.2,370 616,371.6 615.6,372 614,373.2 612.5,374 612,374.2 610,374.7 608,374.7 606,374.3 605.5,374 604,373.2 602.7,372 602,371.2 601.2,370 600.4,368 600,366.2 600,366 600,364.3 600,364 600.5,362 601.5,360 602,359.3 603.2,358 604,357.4 606,356.3 607.2,356ZM596,395.4 598,395.3 600,395.6 601,396 602,396.4 604,397.9 604.1,398 605.7,400 606,400.5 606.7,402 607.3,404 607.5,406 607.4,408 606.8,410 606,411.4 605.6,412 604,413.6 603.4,414 602,414.7 600,415.4 598,415.7 596,415.6 594,415.1 592,414.2 591.7,414 590,412.7 589.4,412 588,410 588,409.9 587.4,408 587.1,406 587.3,404 587.9,402 588,401.8 589,400 590,398.8 590.8,398 592,397.1 594,396 594,396ZM556,417.7 558,417.9 558.1,418 559.2,420 558.6,422 558,422.5 556,422.9 554.5,422 554,420.8 553.8,420 554,419.6 555.4,418ZM626,419.9 628,419 630,418.5 632,418.4 634,418.6 636,419.1 637.9,420 638,420.1 640,421.6 640.4,422 641.9,424 642,424.2 642.8,426 643.3,428 643.4,430 643.1,432 642.4,434 642,434.8 641.3,436 640,437.5 639.4,438 638,439 636,440 635.8,440 634,440.4 632,440.6 630,440.3 628.9,440 628,439.7 626,438.6 625.3,438 624,436.8 623.3,436 622.1,434 622,433.7 621.4,432 621,430 621,428 621.3,426 622,424.1 622.1,424 623.4,422 624,421.4 625.9,420ZM632,427.4 634,428 634,428 634.4,430 634,430.7 632,431.7 630.1,430 630.8,428Z" fill="none" stroke="#000" stroke-opacity="0.5" stroke-width="1.2"/>
<path d="M410,385.5 409.1,386 408,387 407.2,388 406.6,390 406.7,392 407.5,394 408,394.6 409.8,396 410,396.1 412,396.5 414,396.3 414.7,396 416,395.2 417.1,394 418,392.1 418,392 418.1,390 418,389.6 417.4,388 416,386.3 415.5,386 414,385.3 412,385.1ZM408,381.8 407.5,382 406,383 404.9,384 404,385.1 403.4,386 402.7,388 402.3,390 402.4,392 402.9,394 403.9,396 404,396.2 405.5,398 406,398.5 408,399.8 408.6,400 410,400.5 412,400.8 414,400.6 416,400 416.1,400 418,398.9 419.1,398 420,397.1 420.8,396 421.8,394 422,393.3 422.3,392 422.4,390 422.1,388 422,387.9 421.2,386 420,384.3 419.7,384 418,382.6 416.9,382 416,381.6 414,381 412,380.9 410,381.1ZM374,361.4 373.2,362 372,363.4 371.7,364 371.3,366 371.7,368 372,368.6 373.2,370 374,370.6 376,371.3 378,371.2 380,370.3 380.3,370 381.6,368 382,366 381.4,364 380,362 380,362 378,361 376,360.8ZM408,377.8 407.6,378 406,378.6 404,379.7 403.6,380 402,381.4 401.4,382 400.1,384 400,384.2 399.2,386 398.8,388 398.6,390 398.7,392 399.1,394 399.8,396 400,396.4 400.9,398 402,399.6 402.4,400 404,401.6 404.6,402 406,402.9 408,403.8 408.8,404 410,404.3 412,404.5 414,404.4 415.5,404 416,403.9 418,403.1 419.9,402 420,401.9 422,400.2 422.2,400 423.8,398 424,397.7 425,396 425.7,394 426,392.7 426.2,392 426.3,390 426.1,388 426,387.7 425.5,386 424.6,384 424,383.2 423,382 422,381 420.7,380 420,379.5 418,378.5 416.7,378 416,377.8 414,377.4 412,377.3 410,377.4ZM376,354 376,354 374,354.3 372,354.9 370,355.9 369.9,356 368,357.5 367.6,358 366.1,360 366,360.2 365.2,362 364.7,364 364.5,366 364.7,368 365.2,370 366,371.8 366.1,372 367.5,374 368,374.5 369.8,376 370,376.1 372,377.2 374,377.9 374.8,378 376,378.2 378,378.2 380,378 380.1,378 382,377.5 384,376.7 385.2,376 386,375.4 387.3,374 388,372.9 388.5,372 389,370 389.2,368 389.1,366 388.8,364 388.1,362 388,361.8 387.1,360 386,358.6 385.5,358 384,356.6 383.1,356 382,355.3 380,354.5 378,354.1 376.1,354ZM450,371.8 449.4,372 448,372.6 446,374 446,374 444.3,376 444,376.6 443.4,378 443,380 443.1,382 444,383.9 444.1,384 446,386 446,386 448,387 450,387.6 452,387.8 454,387.5 456,386.7 457,386 458,385.1 458.9,384 459.9,382 460,381.2 460.2,380 460.1,378 460,377.8 459.3,376 458,374.1 457.9,374 456,372.6 454.7,372 454,371.8 452,371.5ZM408,373.7 406.8,374 406,374.2 404,374.8 402,375.7 401.3,376 400,376.8 398.4,378 398,378.4 396.6,380 396,381 395.5,382 394.9,384 394.5,386 394.4,388 394.4,390 394.7,392 395,394 395.6,396 396,396.9 396.5,398 397.5,400 398,400.7 398.9,402 400,403.3 400.7,404 402,405.2 403.1,406 404,406.6 406,407.7 407,408 408,408.4 410,408.8 412,408.9 414,408.7 416,408.2 416.5,408 418,407.5 420,406.5 420.9,406 422,405.3 423.6,404 424,403.7 425.7,402 426,401.6 427.2,400 428,398.8 428.5,398 429.5,396 430,394.6 430.2,394 430.8,392 431.2,390 431.3,388 431,386 430.3,384 430,383.6 429.1,382 428,380.8 427.3,380 426,378.8 425,378 424,377.3 422,376 421.9,376 420,375.1 418,374.3 416.7,374 416,373.8 414,373.5 412,373.4 410,373.5ZM400,427.9 399.9,428 398,429.8 397.8,430 396.7,432 396.1,434 396,436 396.4,438 397.3,440 398,441 399,442 400,442.8 402,443.7 403.2,444 404,444.2 406,444.1 406.4,444 408,443.5 410,442.4 410.4,442 412,440.2 412.1,440 413,438 413.4,436 413.3,434 412.8,432 412,430.5 411.7,430 410,428.2 409.7,428 408,427 406,426.4 404,426.4 402,426.9ZM374,347.6 372.1,348 372,348 370,348.6 368,349.5 367.1,350 366,350.7 364.3,352 364,352.3 362.4,354 362,354.4 360.9,356 360,357.6 359.8,358 358.9,360 358.4,362 358.1,364 358,365.2 358,366 358,366.8 358.1,368 358.4,370 358.9,372 359.8,374 360,374.4 360.9,376 362,377.6 362.4,378 364,379.7 364.3,380 366,381.3 367.1,382 368,382.5 370,383.5 371.6,384 372,384.1 374,384.6 376,385 378,385.2 380,385.4 382,385.6 384,386 384.1,386 386,387.1 386.8,388 388,390 388,390 388.7,392 389.3,394 390,395.8 390.1,396 390.8,398 391.7,400 392,400.7 392.7,402 393.8,404 394,404.3 395.1,406 396,407.3 396.6,408 398,410 398,410 399.3,412 400,413.8 400.1,414 400,414.8 399.9,416 398.4,418 398,418.3 396.3,420 396,420.2 394.2,422 394,422.2 392.4,424 392,424.5 390.9,426 390,427.7 389.8,428 389,430 388.4,432 388.2,434 388.1,436 388.3,438 388.7,440 389.4,442 390,443.2 390.4,444 391.9,446 392,446.2 393.8,448 394,448.2 396,449.6 396.7,450 398,450.7 400,451.4 402,451.9 403.3,452 404,452.1 406,452 406.3,452 408,451.8 410,451.2 412,450.4 412.7,450 414,449.2 415.6,448 416,447.6 417.5,446 418,445.4 419,444 420,442 420,441.9 420.7,440 421.1,438 421.3,436 421.3,434 421,432 420.6,430 420,428.4 419.9,428 419,426 418,424 418,424 416.9,422 416,420 416,419.8 415.7,418 416,417.4 416.6,416 418,414.9 418.9,414 420,413.3 421.8,412 422,411.9 424,410.5 424.6,410 426,408.9 427,408 428,407.1 429.1,406 430,405 430.9,404 432,402.6 432.5,402 434,400 434,400 435.7,398 436,397.7 438,396 438.1,396 440,395.3 442,395.1 444,395.3 446,395.6 448,395.9 449.7,396 450,396 452,396 452.4,396 454,395.9 456,395.5 458,394.8 459.7,394 460,393.9 462,392.6 462.7,392 464,390.8 464.7,390 466,388.2 466.1,388 467.1,386 467.8,384 468,383.3 468.3,382 468.5,380 468.4,378 468,376 468,375.9 467.5,374 466.6,372 466,371.1 465.3,370 464,368.4 463.6,368 462,366.6 461.1,366 460,365.3 458,364.4 456.7,364 456,363.8 454,363.4 452,363.3 450,363.5 448,363.9 447.5,364 446,364.5 444,365.4 442.9,366 442,366.6 440,368 440,368 438,369.7 437.5,370 436,371.2 434.7,372 434,372.4 432,372.9 430,372.8 428,372.3 427.1,372 426,371.6 424,370.8 422,370.1 421.5,370 420,369.5 418,369 416,368.6 414,368.3 412,368.2 410,368.2 408,368.2 406,368.3 404,368.3 402,368.2 401,368 400,367.7 398,366.2 397.9,366 396.6,364 396,362.9 395.6,362 394.7,360 394,358.8 393.6,358 392.3,356 392,355.6 390.8,354 390,353.2 388.7,352 388,351.4 386,350.1 385.9,350 384,349 382,348.3 380.9,348 380,347.8 378,347.5 376,347.4Z" fill="none" stroke="#000" stroke-opacity="0.5" stroke-width="1.2" stroke-dasharray="3,2.2"/>
<g stroke-width="1.2" stroke-linecap="butt"><line x1="411.8" y1="393.2" x2="395.2" y2="380.4" stroke="#000000"/><line x1="395.2" y1="380.4" x2="378.6" y2="367.6" stroke="#ff0000"/><line x1="414.1" y1="393.6" x2="410.7" y2="414.8" stroke="#000000"/><line x1="410.7" y1="414.8" x2="407.4" y2="436.1" stroke="#ff0000"/><line x1="409.5" y1="392.8" x2="406.2" y2="414.1" stroke="#000000"/><line x1="406.2" y1="414.1" x2="402.9" y2="435.4" stroke="#ff0000"/><line x1="411.8" y1="393.2" x2="452.2" y2="379.6" stroke="#000000"/><line x1="452.2" y1="379.6" x2="484.9" y2="406.9" stroke="#000000"/><line x1="484.9" y1="406.9" x2="525" y2="392.9" stroke="#000000"/><line x1="525" y1="392.9" x2="556.5" y2="420.4" stroke="#000000"/><path d="M597.2,405.6 L555.2,416.9 L557.8,423.8Z" fill="#000"/><line x1="597.2" y1="405.6" x2="602.6" y2="387.5" stroke="#000000"/><line x1="602.6" y1="387.5" x2="608" y2="369.3" stroke="#cccc00"/><line x1="613.8" y1="364.9" x2="647.4" y2="364" stroke="#cccc00"/><line x1="653.4" y1="368.1" x2="659.8" y2="386.1" stroke="#cccc00"/><line x1="659.8" y1="386.1" x2="666.1" y2="404.1" stroke="#000000"/><line x1="666.1" y1="404.1" x2="632.4" y2="429.6" stroke="#000000"/><line x1="632.4" y1="429.6" x2="597.2" y2="405.6" stroke="#000000"/></g>
<text x="379" y="370" text-anchor="end" font-size="11" fill="#ff0000">HO</text>
<text x="404.7" y="445.6" text-anchor="middle" font-size="11" fill="#ff0000">O</text>
<text x="609.3" y="369" text-anchor="middle" font-size="11" fill="#cccc00">S</text>
<text x="651.9" y="367.9" text-anchor="middle" font-size="11" fill="#cccc00">S</text>
<rect x="39.1" y="559.5" width="288.9" height="214.5" fill="#eaeaf2"/>
<line x1="44.2" y1="559.5" x2="44.2" y2="774" stroke="#fff" stroke-width="1"/>
<line x1="93.08" y1="559.5" x2="93.08" y2="774" stroke="#fff" stroke-width="1"/>
<line x1="141.96" y1="559.5" x2="141.96" y2="774" stroke="#fff" stroke-width="1"/>
<line x1="190.84" y1="559.5" x2="190.84" y2="774" stroke="#fff" stroke-width="1"/>
<line x1="239.72" y1="559.5" x2="239.72" y2="774" stroke="#fff" stroke-width="1"/>
<line x1="288.6" y1="559.5" x2="288.6" y2="774" stroke="#fff" stroke-width="1"/>
<line x1="39.1" y1="747.75" x2="328" y2="747.75" stroke="#fff" stroke-width="1"/>
<line x1="39.1" y1="720.9" x2="328" y2="720.9" stroke="#fff" stroke-width="1"/>
<line x1="39.1" y1="694.05" x2="328" y2="694.05" stroke="#fff" stroke-width="1"/>
<line x1="39.1" y1="667.2" x2="328" y2="667.2" stroke="#fff" stroke-width="1"/>
<line x1="39.1" y1="640.35" x2="328" y2="640.35" stroke="#fff" stroke-width="1"/>
<line x1="39.1" y1="613.5" x2="328" y2="613.5" stroke="#fff" stroke-width="1"/>
<line x1="39.1" y1="586.65" x2="328" y2="586.65" stroke="#fff" stroke-width="1"/>
<line x1="39.1" y1="559.8" x2="328" y2="559.8" stroke="#fff" stroke-width="1"/>
<g fill="#267c60" fill-opacity="0.5" stroke="#fff" stroke-opacity="0.5" stroke-width="0.9"><rect x="79.8" y="767.9" width="8.68" height="6.1"/><rect x="88.48" y="767.9" width="8.68" height="6.1"/><rect x="97.16" y="742.4" width="8.68" height="31.6"/><rect x="105.84" y="685.7" width="8.68" height="88.3"/><rect x="114.52" y="655.7" width="8.68" height="118.3"/><rect x="123.2" y="603.9" width="8.68" height="170.1"/><rect x="131.88" y="569.2" width="8.68" height="204.8"/><rect x="140.56" y="609" width="8.68" height="165"/><rect x="149.24" y="647" width="8.68" height="127"/><rect x="157.92" y="668.9" width="8.68" height="105.1"/><rect x="166.6" y="669.4" width="8.68" height="104.6"/><rect x="175.28" y="685.5" width="8.68" height="88.5"/><rect x="183.96" y="714.4" width="8.68" height="59.6"/><rect x="192.64" y="722.9" width="8.68" height="51.1"/><rect x="201.32" y="730.7" width="8.68" height="43.3"/><rect x="210" y="755.7" width="8.68" height="18.3"/><rect x="218.68" y="750.1" width="8.68" height="23.9"/><rect x="227.36" y="737.7" width="8.68" height="36.3"/><rect x="236.04" y="764.5" width="8.68" height="9.5"/><rect x="244.72" y="770.9" width="8.68" height="3.1"/><rect x="253.4" y="766.2" width="8.68" height="7.8"/><rect x="279.44" y="760.5" width="8.68" height="13.5"/></g>
<path d="M79.4,774.6 L80.4,774.6 L81.4,774.5 L82.4,774.2 L83.4,773.8 L84.4,773.1 L85.4,772.3 L86.4,771.1 L87.4,769.7 L88.4,768.1 L89.4,766.2 L90.4,764.0 L91.4,761.5 L92.4,758.8 L93.4,755.8 L94.4,752.6 L95.4,749.2 L96.4,745.6 L97.4,741.8 L98.4,737.8 L99.4,733.6 L100.4,729.4 L101.4,725.0 L102.4,720.6 L103.4,716.0 L104.4,711.5 L105.4,706.9 L106.4,702.2 L107.4,697.6 L108.4,693.0 L109.4,688.4 L110.4,683.9 L111.4,679.4 L112.4,675.0 L113.4,670.7 L114.4,666.5 L115.4,662.4 L116.4,658.5 L117.4,654.6 L118.4,650.9 L119.4,647.4 L120.4,644.0 L121.4,640.8 L122.4,637.7 L123.4,634.9 L124.4,632.1 L125.4,629.6 L126.4,627.3 L127.4,625.1 L128.4,623.1 L129.4,621.3 L130.4,619.6 L131.4,618.2 L132.4,616.9 L133.4,615.8 L134.4,614.9 L135.4,614.2 L136.4,613.6 L137.4,613.2 L138.4,613.0 L139.4,612.9 L140.4,612.9 L141.4,613.2 L142.4,613.5 L143.4,614.0 L144.4,614.7 L145.4,615.5 L146.4,616.4 L147.4,617.4 L148.4,618.5 L149.4,619.8 L150.4,621.1 L151.4,622.6 L152.4,624.1 L153.4,625.8 L154.4,627.5 L155.4,629.3 L156.4,631.2 L157.4,633.1 L158.4,635.1 L159.4,637.2 L160.4,639.3 L161.4,641.5 L162.4,643.7 L163.4,645.9 L164.4,648.2 L165.4,650.5 L166.4,652.8 L167.4,655.2 L168.4,657.6 L169.4,660.0 L170.4,662.3 L171.4,664.8 L172.4,667.2 L173.4,669.6 L174.4,672.0 L175.4,674.4 L176.4,676.8 L177.4,679.2 L178.4,681.5 L179.4,683.9 L180.4,686.2 L181.4,688.5 L182.4,690.8 L183.4,693.1 L184.4,695.3 L185.4,697.6 L186.4,699.8 L187.4,701.9 L188.4,704.0 L189.4,706.1 L190.4,708.2 L191.4,710.2 L192.4,712.2 L193.4,714.2 L194.4,716.1 L195.4,717.9 L196.4,719.8 L197.4,721.6 L198.4,723.4 L199.4,725.1 L200.4,726.8 L201.4,728.4 L202.4,730.0 L203.4,731.6 L204.4,733.1 L205.4,734.6 L206.4,736.1 L207.4,737.5 L208.4,738.9 L209.4,740.2 L210.4,741.5 L211.4,742.8 L212.4,744.0 L213.4,745.2 L214.4,746.3 L215.4,747.5 L216.4,748.5 L217.4,749.6 L218.4,750.6 L219.4,751.6 L220.4,752.5 L221.4,753.5 L222.4,754.4 L223.4,755.2 L224.4,756.0 L225.4,756.9 L226.4,757.6 L227.4,758.4 L228.4,759.1 L229.4,759.8 L230.4,760.4 L231.4,761.1 L232.4,761.7 L233.4,762.3 L234.4,762.9 L235.4,763.4 L236.4,763.9 L237.4,764.5 L238.4,764.9 L239.4,765.4 L240.4,765.8 L241.4,766.3 L242.4,766.7 L243.4,767.1 L244.4,767.5 L245.4,767.8 L246.4,768.2 L247.4,768.5 L248.4,768.8 L249.4,769.1 L250.4,769.4 L251.4,769.7 L252.4,769.9 L253.4,770.2 L254.4,770.4 L255.4,770.6 L256.4,770.8 L257.4,771.1 L258.4,771.2 L259.4,771.4 L260.4,771.6 L261.4,771.8 L262.4,771.9 L263.4,772.1 L264.4,772.2 L265.4,772.4 L266.4,772.5 L267.4,772.6 L268.4,772.7 L269.4,772.8 L270.4,772.9 L271.4,773.0 L272.4,773.1 L273.4,773.2 L274.4,773.3 L275.4,773.4 L276.4,773.5 L277.4,773.5 L278.4,773.6 L279.4,773.7 L280.4,773.7 L281.4,773.8 L282.4,773.8 L283.4,773.9 L284.4,773.9 L285.4,774.0 L286.4,774.0 L287.4,774.1 L288.4,774.1 L289.4,774.1 L290.4,774.2 L291.4,774.2 L292.4,774.2 L293.4,774.2 L294.4,774.3 L295.4,774.3 L296.4,774.3 L297.4,774.3 L298.4,774.4 L299.4,774.4 L300.4,774.4 L301.4,774.4 L302.4,774.4 L303.4,774.4 L304.4,774.4 L305.4,774.5 L306.4,774.5 L307.4,774.5 L308.4,774.5 L309.4,774.5 L310.4,774.5 L311.4,774.5 L312.4,774.5 L313.4,774.5 L314.4,774.5 L315.4,774.5 L316.0,774.5" fill="none" stroke="#262626" stroke-width="1.5" stroke-linejoin="round" stroke-linecap="round"/>
<line x1="122.1" y1="559.5" x2="122.1" y2="774" stroke="#ff0000" stroke-width="3"/>
<line x1="126.8" y1="559.5" x2="126.8" y2="774" stroke="#0000ff" stroke-width="3"/>
<text x="129.7" y="612.7" fill="#0000ff" font-size="14.4" textLength="43.5" lengthAdjust="spacingAndGlyphs">Inside</text>
<text x="124.8" y="764.2" fill="#ff0000" font-size="14.4" textLength="71.2" lengthAdjust="spacingAndGlyphs">Threshold</text>
<text x="44.2" y="789.7" text-anchor="middle" font-size="10.0" fill="#262626">0.0</text>
<text x="93.08" y="789.7" text-anchor="middle" font-size="10.0" fill="#262626">0.2</text>
<text x="141.96" y="789.7" text-anchor="middle" font-size="10.0" fill="#262626">0.4</text>
<text x="190.84" y="789.7" text-anchor="middle" font-size="10.0" fill="#262626">0.6</text>
<text x="239.72" y="789.7" text-anchor="middle" font-size="10.0" fill="#262626">0.8</text>
<text x="288.6" y="789.7" text-anchor="middle" font-size="10.0" fill="#262626">1.0</text>
<text x="29.6" y="778" text-anchor="end" font-size="10.0" fill="#262626">0.0</text>
<text x="29.6" y="751.15" text-anchor="end" font-size="10.0" fill="#262626">0.5</text>
<text x="29.6" y="724.3" text-anchor="end" font-size="10.0" fill="#262626">1.0</text>
<text x="29.6" y="697.45" text-anchor="end" font-size="10.0" fill="#262626">1.5</text>
<text x="29.6" y="670.6" text-anchor="end" font-size="10.0" fill="#262626">2.0</text>
<text x="29.6" y="643.75" text-anchor="end" font-size="10.0" fill="#262626">2.5</text>
<text x="29.6" y="616.9" text-anchor="end" font-size="10.0" fill="#262626">3.0</text>
<text x="29.6" y="590.05" text-anchor="end" font-size="10.0" fill="#262626">3.5</text>
<text x="29.6" y="563.2" text-anchor="end" font-size="10.0" fill="#262626">4.0</text>
<text x="183.55" y="802.5" text-anchor="middle" font-size="10.0" fill="#262626" textLength="69.3" lengthAdjust="spacingAndGlyphs">Dice similarity</text>
<text x="2.2" y="567.2" style="font-family:'Liberation Serif',serif;font-weight:bold" font-size="14.5" fill="#000">F</text>
<defs><radialGradient id="g2r0" gradientUnits="userSpaceOnUse" cx="525" cy="673" r="38.1"><stop offset="0.000" stop-color="#9f9f9f"/><stop offset="0.042" stop-color="#9e9e9e"/><stop offset="0.083" stop-color="#9a9a9a"/><stop offset="0.125" stop-color="#939393"/><stop offset="0.167" stop-color="#8a8a8a"/><stop offset="0.208" stop-color="#808080"/><stop offset="0.250" stop-color="#747474"/><stop offset="0.292" stop-color="#676767"/><stop offset="0.333" stop-color="#5a5a5a"/><stop offset="0.375" stop-color="#4e4e4e"/><stop offset="0.417" stop-color="#424242"/><stop offset="0.458" stop-color="#363636"/><stop offset="0.500" stop-color="#2c2c2c"/><stop offset="0.542" stop-color="#232323"/><stop offset="0.583" stop-color="#1c1c1c"/><stop offset="0.625" stop-color="#161616"/><stop offset="0.667" stop-color="#101010"/><stop offset="0.708" stop-color="#0c0c0c"/><stop offset="0.750" stop-color="#090909"/><stop offset="0.792" stop-color="#060606"/><stop offset="0.833" stop-color="#050505"/><stop offset="0.875" stop-color="#030303"/><stop offset="0.917" stop-color="#020202"/><stop offset="0.958" stop-color="#010101"/><stop offset="1.000" stop-color="#010101"/></radialGradient><radialGradient id="g2r1" gradientUnits="userSpaceOnUse" cx="556.5" cy="700.4" r="38.1"><stop offset="0.000" stop-color="#5a5a5a"/><stop offset="0.042" stop-color="#595959"/><stop offset="0.083" stop-color="#575757"/><stop offset="0.125" stop-color="#535353"/><stop offset="0.167" stop-color="#4e4e4e"/><stop offset="0.208" stop-color="#484848"/><stop offset="0.250" stop-color="#424242"/><stop offset="0.292" stop-color="#3a3a3a"/><stop offset="0.333" stop-color="#333333"/><stop offset="0.375" stop-color="#2c2c2c"/><stop offset="0.417" stop-color="#252525"/><stop offset="0.458" stop-color="#1f1f1f"/><stop offset="0.500" stop-color="#191919"/><stop offset="0.542" stop-color="#141414"/><stop offset="0.583" stop-color="#101010"/><stop offset="0.625" stop-color="#0c0c0c"/><stop offset="0.667" stop-color="#090909"/><stop offset="0.708" stop-color="#070707"/><stop offset="0.750" stop-color="#050505"/><stop offset="0.792" stop-color="#040404"/><stop offset="0.833" stop-color="#030303"/><stop offset="0.875" stop-color="#020202"/><stop offset="0.917" stop-color="#010101"/><stop offset="0.958" stop-color="#010101"/><stop offset="1.000" stop-color="#010101"/></radialGradient><filter id="cm2r" x="0" y="0" width="1" height="1" filterUnits="objectBoundingBox" color-interpolation-filters="sRGB"><feComponentTransfer><feFuncR type="table" tableValues="1.000 1.000 1.000 1.000 1.000 1.000 1.000 1.000 1.000 1.000 1.000 1.000 1.000 1.000 1.000 1.000 1.000 0.998 0.995 0.993 0.990 0.987 0.985 0.982 0.979 0.977 0.974 0.971 0.968 0.963 0.959 0.954 0.950 0.946 0.941 0.937 0.932 0.928 0.923 0.919 0.914 0.910 0.906 0.901 0.897 0.892 0.888 0.883 0.879 0.875 0.871 0.867 0.863 0.859 0.855 0.851 0.847 0.843 0.839 0.835 0.831 0.827 0.823 0.819 0.815 0.811 0.808 0.804 0.801 0.797 0.794 0.791 0.787 0.784 0.781 0.777 0.774 0.771 0.767 0.764 0.761 0.757 0.754 0.751 0.747 0.744 0.741 0.739 0.736 0.734 0.732 0.730 0.728 0.725 0.723 0.721 0.719"/><feFuncG type="table" tableValues="1.000 1.000 1.000 1.000 1.000 1.000 1.000 1.000 1.000 1.000 1.000 1.000 1.000 1.000 1.000 1.000 1.000 0.995 0.989 0.983 0.977 0.970 0.964 0.958 0.952 0.946 0.939 0.933 0.925 0.915 0.905 0.894 0.884 0.874 0.863 0.853 0.843 0.833 0.822 0.812 0.802 0.791 0.781 0.771 0.761 0.750 0.740 0.730 0.720 0.711 0.702 0.693 0.683 0.674 0.665 0.656 0.646 0.637 0.628 0.619 0.609 0.600 0.591 0.582 0.572 0.563 0.554 0.545 0.538 0.530 0.522 0.515 0.507 0.499 0.491 0.484 0.476 0.468 0.461 0.453 0.445 0.437 0.430 0.422 0.414 0.406 0.399 0.394 0.389 0.384 0.379 0.373 0.368 0.363 0.358 0.353 0.348"/><feFuncB type="table" tableValues="1.000 1.000 1.000 1.000 1.000 1.000 1.000 1.000 1.000 1.000 1.000 1.000 1.000 1.000 1.000 1.000 1.000 0.995 0.989 0.983 0.977 0.971 0.965 0.959 0.953 0.947 0.941 0.935 0.927 0.917 0.906 0.896 0.886 0.876 0.866 0.856 0.846 0.836 0.826 0.816 0.806 0.796 0.785 0.775 0.765 0.755 0.745 0.735 0.726 0.717 0.708 0.699 0.690 0.681 0.671 0.662 0.653 0.644 0.635 0.626 0.617 0.608 0.599 0.590 0.581 0.572 0.563 0.554 0.547 0.539 0.532 0.524 0.516 0.509 0.501 0.494 0.486 0.479 0.471 0.464 0.456 0.448 0.441 0.433 0.426 0.418 0.411 0.406 0.401 0.396 0.391 0.386 0.381 0.376 0.371 0.366 0.361"/></feComponentTransfer></filter><radialGradient id="g2g0" gradientUnits="userSpaceOnUse" cx="379.5" cy="644.2" r="38.1"><stop offset="0.000" stop-color="#808080"/><stop offset="0.042" stop-color="#7f7f7f"/><stop offset="0.083" stop-color="#7c7c7c"/><stop offset="0.125" stop-color="#767676"/><stop offset="0.167" stop-color="#6f6f6f"/><stop offset="0.208" stop-color="#676767"/><stop offset="0.250" stop-color="#5d5d5d"/><stop offset="0.292" stop-color="#535353"/><stop offset="0.333" stop-color="#494949"/><stop offset="0.375" stop-color="#3e3e3e"/><stop offset="0.417" stop-color="#353535"/><stop offset="0.458" stop-color="#2c2c2c"/><stop offset="0.500" stop-color="#242424"/><stop offset="0.542" stop-color="#1d1d1d"/><stop offset="0.583" stop-color="#161616"/><stop offset="0.625" stop-color="#111111"/><stop offset="0.667" stop-color="#0d0d0d"/><stop offset="0.708" stop-color="#0a0a0a"/><stop offset="0.750" stop-color="#070707"/><stop offset="0.792" stop-color="#050505"/><stop offset="0.833" stop-color="#040404"/><stop offset="0.875" stop-color="#030303"/><stop offset="0.917" stop-color="#020202"/><stop offset="0.958" stop-color="#010101"/><stop offset="1.000" stop-color="#010101"/></radialGradient><radialGradient id="g2g1" gradientUnits="userSpaceOnUse" cx="412.5" cy="668.8" r="38.1"><stop offset="0.000" stop-color="#9f9f9f"/><stop offset="0.042" stop-color="#9e9e9e"/><stop offset="0.083" stop-color="#9a9a9a"/><stop offset="0.125" stop-color="#939393"/><stop offset="0.167" stop-color="#8a8a8a"/><stop offset="0.208" stop-color="#808080"/><stop offset="0.250" stop-color="#747474"/><stop offset="0.292" stop-color="#676767"/><stop offset="0.333" stop-color="#5a5a5a"/><stop offset="0.375" stop-color="#4e4e4e"/><stop offset="0.417" stop-color="#424242"/><stop offset="0.458" stop-color="#363636"/><stop offset="0.500" stop-color="#2c2c2c"/><stop offset="0.542" stop-color="#232323"/><stop offset="0.583" stop-color="#1c1c1c"/><stop offset="0.625" stop-color="#161616"/><stop offset="0.667" stop-color="#101010"/><stop offset="0.708" stop-color="#0c0c0c"/><stop offset="0.750" stop-color="#090909"/><stop offset="0.792" stop-color="#060606"/><stop offset="0.833" stop-color="#050505"/><stop offset="0.875" stop-color="#030303"/><stop offset="0.917" stop-color="#020202"/><stop offset="0.958" stop-color="#010101"/><stop offset="1.000" stop-color="#010101"/></radialGradient><radialGradient id="g2g2" gradientUnits="userSpaceOnUse" cx="405" cy="716.3" r="38.1"><stop offset="0.000" stop-color="#838383"/><stop offset="0.042" stop-color="#828282"/><stop offset="0.083" stop-color="#7f7f7f"/><stop offset="0.125" stop-color="#797979"/><stop offset="0.167" stop-color="#727272"/><stop offset="0.208" stop-color="#696969"/><stop offset="0.250" stop-color="#5f5f5f"/><stop offset="0.292" stop-color="#555555"/><stop offset="0.333" stop-color="#4a4a4a"/><stop offset="0.375" stop-color="#404040"/><stop offset="0.417" stop-color="#363636"/><stop offset="0.458" stop-color="#2d2d2d"/><stop offset="0.500" stop-color="#242424"/><stop offset="0.542" stop-color="#1d1d1d"/><stop offset="0.583" stop-color="#171717"/><stop offset="0.625" stop-color="#121212"/><stop offset="0.667" stop-color="#0d0d0d"/><stop offset="0.708" stop-color="#0a0a0a"/><stop offset="0.750" stop-color="#070707"/><stop offset="0.792" stop-color="#050505"/><stop offset="0.833" stop-color="#040404"/><stop offset="0.875" stop-color="#030303"/><stop offset="0.917" stop-color="#020202"/><stop offset="0.958" stop-color="#010101"/><stop offset="1.000" stop-color="#010101"/></radialGradient><radialGradient id="g2g3" gradientUnits="userSpaceOnUse" cx="452.2" cy="659.6" r="38.1"><stop offset="0.000" stop-color="#2c2c2c"/><stop offset="0.042" stop-color="#2b2b2b"/><stop offset="0.083" stop-color="#2a2a2a"/><stop offset="0.125" stop-color="#282828"/><stop offset="0.167" stop-color="#262626"/><stop offset="0.208" stop-color="#232323"/><stop offset="0.250" stop-color="#202020"/><stop offset="0.292" stop-color="#1c1c1c"/><stop offset="0.333" stop-color="#191919"/><stop offset="0.375" stop-color="#151515"/><stop offset="0.417" stop-color="#121212"/><stop offset="0.458" stop-color="#0f0f0f"/><stop offset="0.500" stop-color="#0c0c0c"/><stop offset="0.542" stop-color="#0a0a0a"/><stop offset="0.583" stop-color="#080808"/><stop offset="0.625" stop-color="#060606"/><stop offset="0.667" stop-color="#040404"/><stop offset="0.708" stop-color="#030303"/><stop offset="0.750" stop-color="#020202"/><stop offset="0.792" stop-color="#020202"/><stop offset="0.833" stop-color="#010101"/><stop offset="0.875" stop-color="#010101"/><stop offset="0.917" stop-color="#010101"/><stop offset="0.958" stop-color="#000000"/><stop offset="1.000" stop-color="#000000"/></radialGradient><radialGradient id="g2g4" gradientUnits="userSpaceOnUse" cx="597.2" cy="685.6" r="38.1"><stop offset="0.000" stop-color="#2d2d2d"/><stop offset="0.042" stop-color="#2d2d2d"/><stop offset="0.083" stop-color="#2c2c2c"/><stop offset="0.125" stop-color="#2a2a2a"/><stop offset="0.167" stop-color="#272727"/><stop offset="0.208" stop-color="#242424"/><stop offset="0.250" stop-color="#212121"/><stop offset="0.292" stop-color="#1d1d1d"/><stop offset="0.333" stop-color="#1a1a1a"/><stop offset="0.375" stop-color="#161616"/><stop offset="0.417" stop-color="#131313"/><stop offset="0.458" stop-color="#0f0f0f"/><stop offset="0.500" stop-color="#0d0d0d"/><stop offset="0.542" stop-color="#0a0a0a"/><stop offset="0.583" stop-color="#080808"/><stop offset="0.625" stop-color="#060606"/><stop offset="0.667" stop-color="#050505"/><stop offset="0.708" stop-color="#030303"/><stop offset="0.750" stop-color="#030303"/><stop offset="0.792" stop-color="#020202"/><stop offset="0.833" stop-color="#010101"/><stop offset="0.875" stop-color="#010101"/><stop offset="0.917" stop-color="#010101"/><stop offset="0.958" stop-color="#000000"/><stop offset="1.000" stop-color="#000000"/></radialGradient><radialGradient id="g2g5" gradientUnits="userSpaceOnUse" cx="666.1" cy="684" r="38.1"><stop offset="0.000" stop-color="#101010"/><stop offset="0.042" stop-color="#0f0f0f"/><stop offset="0.083" stop-color="#0f0f0f"/><stop offset="0.125" stop-color="#0e0e0e"/><stop offset="0.167" stop-color="#0e0e0e"/><stop offset="0.208" stop-color="#0d0d0d"/><stop offset="0.250" stop-color="#0b0b0b"/><stop offset="0.292" stop-color="#0a0a0a"/><stop offset="0.333" stop-color="#090909"/><stop offset="0.375" stop-color="#080808"/><stop offset="0.417" stop-color="#060606"/><stop offset="0.458" stop-color="#050505"/><stop offset="0.500" stop-color="#040404"/><stop offset="0.542" stop-color="#030303"/><stop offset="0.583" stop-color="#030303"/><stop offset="0.625" stop-color="#020202"/><stop offset="0.667" stop-color="#020202"/><stop offset="0.708" stop-color="#010101"/><stop offset="0.750" stop-color="#010101"/><stop offset="0.792" stop-color="#010101"/><stop offset="0.833" stop-color="#000000"/><stop offset="0.875" stop-color="#000000"/><stop offset="0.917" stop-color="#000000"/><stop offset="0.958" stop-color="#000000"/><stop offset="1.000" stop-color="#000000"/></radialGradient><radialGradient id="g2g6" gradientUnits="userSpaceOnUse" cx="632.4" cy="709.5" r="38.1"><stop offset="0.000" stop-color="#202020"/><stop offset="0.042" stop-color="#202020"/><stop offset="0.083" stop-color="#1f1f1f"/><stop offset="0.125" stop-color="#1e1e1e"/><stop offset="0.167" stop-color="#1c1c1c"/><stop offset="0.208" stop-color="#1a1a1a"/><stop offset="0.250" stop-color="#181818"/><stop offset="0.292" stop-color="#151515"/><stop offset="0.333" stop-color="#121212"/><stop offset="0.375" stop-color="#101010"/><stop offset="0.417" stop-color="#0d0d0d"/><stop offset="0.458" stop-color="#0b0b0b"/><stop offset="0.500" stop-color="#090909"/><stop offset="0.542" stop-color="#070707"/><stop offset="0.583" stop-color="#060606"/><stop offset="0.625" stop-color="#040404"/><stop offset="0.667" stop-color="#030303"/><stop offset="0.708" stop-color="#020202"/><stop offset="0.750" stop-color="#020202"/><stop offset="0.792" stop-color="#010101"/><stop offset="0.833" stop-color="#010101"/><stop offset="0.875" stop-color="#010101"/><stop offset="0.917" stop-color="#000000"/><stop offset="0.958" stop-color="#000000"/><stop offset="1.000" stop-color="#000000"/></radialGradient><filter id="cm2g" x="0" y="0" width="1" height="1" filterUnits="objectBoundingBox" color-interpolation-filters="sRGB"><feComponentTransfer><feFuncR type="table" tableValues="1.000 1.000 0.996 0.977 0.958 0.939 0.920 0.897 0.873 0.850 0.827 0.803 0.780 0.755 0.729 0.703 0.678 0.652 0.627 0.601 0.576 0.550 0.529 0.508 0.487 0.466 0.445 0.424 0.402 0.381 0.360 0.345 0.330 0.315 0.300 0.285 0.270 0.255 0.240 0.225 0.210 0.195 0.180 0.172 0.165 0.157 0.149 0.141 0.133 0.126 0.118 0.110 0.102 0.095 0.087 0.079 0.071 0.063 0.056 0.048 0.040 0.040 0.040 0.040 0.040 0.040 0.040 0.040 0.040 0.040 0.040 0.040 0.040 0.040 0.040 0.040 0.040 0.040 0.040 0.040 0.040 0.040 0.040 0.040 0.040 0.040 0.040 0.040 0.040 0.040 0.040 0.040 0.040 0.040 0.040 0.040 0.040"/><feFuncG type="table" tableValues="1.000 1.000 0.998 0.989 0.979 0.970 0.960 0.949 0.937 0.925 0.914 0.902 0.890 0.878 0.865 0.852 0.840 0.827 0.814 0.801 0.789 0.776 0.765 0.755 0.744 0.734 0.723 0.713 0.702 0.692 0.681 0.674 0.666 0.659 0.651 0.644 0.637 0.629 0.622 0.614 0.607 0.599 0.592 0.588 0.584 0.580 0.576 0.572 0.568 0.565 0.561 0.557 0.553 0.549 0.545 0.541 0.537 0.534 0.530 0.526 0.522 0.522 0.522 0.522 0.522 0.522 0.522 0.522 0.522 0.522 0.522 0.522 0.522 0.522 0.522 0.522 0.522 0.522 0.522 0.522 0.522 0.522 0.522 0.522 0.522 0.522 0.522 0.522 0.522 0.522 0.522 0.522 0.522 0.522 0.522 0.522 0.522"/><feFuncB type="table" tableValues="1.000 1.000 0.996 0.977 0.958 0.939 0.920 0.897 0.873 0.850 0.827 0.803 0.780 0.755 0.729 0.703 0.678 0.652 0.627 0.601 0.576 0.550 0.529 0.508 0.487 0.466 0.445 0.424 0.402 0.381 0.360 0.345 0.330 0.315 0.300 0.285 0.270 0.255 0.240 0.225 0.210 0.195 0.180 0.172 0.165 0.157 0.149 0.141 0.133 0.126 0.118 0.110 0.102 0.095 0.087 0.079 0.071 0.063 0.056 0.048 0.040 0.040 0.040 0.040 0.040 0.040 0.040 0.040 0.040 0.040 0.040 0.040 0.040 0.040 0.040 0.040 0.040 0.040 0.040 0.040 0.040 0.040 0.040 0.040 0.040 0.040 0.040 0.040 0.040 0.040 0.040 0.040 0.040 0.040 0.040 0.040 0.040"/></feComponentTransfer></filter></defs>
<g filter="url(#cm2r)"><rect x="340" y="600" width="345" height="180" fill="#000"/><circle cx="525" cy="673" r="38.1" fill="url(#g2r0)" style="mix-blend-mode:plus-lighter"/><circle cx="556.5" cy="700.4" r="38.1" fill="url(#g2r1)" style="mix-blend-mode:plus-lighter"/></g>
<g filter="url(#cm2g)" style="mix-blend-mode:multiply"><rect x="340" y="600" width="345" height="180" fill="#000"/><circle cx="379.5" cy="644.2" r="38.1" fill="url(#g2g0)" style="mix-blend-mode:plus-lighter"/><circle cx="412.5" cy="668.8" r="38.1" fill="url(#g2g1)" style="mix-blend-mode:plus-lighter"/><circle cx="405" cy="716.3" r="38.1" fill="url(#g2g2)" style="mix-blend-mode:plus-lighter"/><circle cx="452.2" cy="659.6" r="38.1" fill="url(#g2g3)" style="mix-blend-mode:plus-lighter"/><circle cx="597.2" cy="685.6" r="38.1" fill="url(#g2g4)" style="mix-blend-mode:plus-lighter"/><circle cx="666.1" cy="684" r="38.1" fill="url(#g2g5)" style="mix-blend-mode:plus-lighter"/><circle cx="632.4" cy="709.5" r="38.1" fill="url(#g2g6)" style="mix-blend-mode:plus-lighter"/></g>
<path d="M522,659.9 524,659.6 526,659.5 528,659.8 528.5,660 530,660.5 532,661.5 532.8,662 534,662.9 535.1,664 536,665.2 536.6,666 537.6,668 538,669.1 538.3,670 538.7,672 538.8,674 538.6,676 538.1,678 538,678.3 537.3,680 536,682 536,682 534,683.9 533.9,684 532,685.1 530,685.9 529.7,686 528,686.4 526,686.6 524,686.5 522,686.1 521.7,686 520,685.4 518,684.4 517.4,684 516,682.9 515.1,682 514,680.6 513.6,680 512.6,678 512,676.1 512,676 511.7,674 511.6,672 511.9,670 512,669.8 512.6,668 513.6,666 514,665.4 515.1,664 516,663 517.3,662 518,661.5 520,660.5 521.6,660ZM556,695.8 557.2,696 558,696.2 560,697.9 560,698 560.6,700 560.4,702 560,702.7 558.7,704 558,704.4 556,704.6 554,704 553.9,704 552.3,702 552,701 551.8,700 552,699.1 552.4,698 554,696.3 555,696Z" fill="none" stroke="#000" stroke-opacity="0.5" stroke-width="1.2"/>
<path d="M410,668 410,668 410,668.1 410.4,670 412,671.1 414,670.6 414.5,670 414.7,668 414,667 412,666.3ZM378,641.9 377.9,642 377,644 377.5,646 378,646.4 380,646.9 381.9,646 382,645.7 382.3,644 382,643.1 380.9,642 380,641.6ZM408,661.4 407.2,662 406,663.1 405.3,664 404.3,666 404,667.7 404,668 404,668.7 404.1,670 404.7,672 405.9,674 406,674.1 408,675.9 408.3,676 410,676.8 412,677.1 414,677 416,676.4 416.7,676 418,675 419,674 420,672.5 420.3,672 420.8,670 420.9,668 420.5,666 420,665 419.4,664 418,662.5 417.4,662 416,661.2 414,660.5 412,660.4 410,660.6ZM404,712.8 402.1,714 402,714.1 401.4,716 401.7,718 402,718.4 404,719.8 406,719.8 408,718.4 408.3,718 408.6,716 408,714.1 407.9,714 406,712.8ZM376,635.5 375,636 374,636.6 372.5,638 372,638.6 371.1,640 370.4,642 370.1,644 370.3,646 370.9,648 372,649.9 372.1,650 374,651.9 374.2,652 376,653 378,653.6 380,653.9 382,653.7 384,653.1 386,652 386.1,652 388,650 388,650 388.9,648 389.3,646 389.3,644 388.9,642 388.1,640 388,639.8 386.6,638 386,637.4 384.2,636 384,635.9 382,635.1 380,634.8 378,634.9ZM406,657.6 405.2,658 404,658.8 402.6,660 402,660.7 401.1,662 400.3,664 400,665.3 399.9,666 399.8,668 399.9,670 400,670.2 400.4,672 401.2,674 402,675.3 402.4,676 404,677.8 404.2,678 406,679.4 407.2,680 408,680.4 410,681 412,681.2 414,681.1 416,680.7 417.7,680 418,679.9 420,678.6 420.7,678 422,676.7 422.6,676 423.8,674 424,673.4 424.6,672 425,670 425.1,668 424.8,666 424.1,664 424,663.8 423,662 422,660.7 421.3,660 420,658.9 418.5,658 418,657.7 416,656.9 414,656.5 412,656.3 410,656.4 408,656.8ZM400,707.8 399.8,708 398,709.5 397.5,710 396.2,712 396,712.6 395.5,714 395.3,716 395.4,718 396,720 396,720.1 397.1,722 398,723.1 399.1,724 400,724.7 402,725.6 403.9,726 404,726 406,726 406.1,726 408,725.6 410,724.7 410.9,724 412,723.1 412.9,722 414,720.1 414,720 414.6,718 414.8,716 414.5,714 414,712.5 413.8,712 412.5,710 412,709.4 410.3,708 410,707.8 408,706.9 406,706.5 404,706.5 402,706.9ZM380,629.9 378.5,630 378,630 376,630.4 374,631 372.1,632 372,632.1 370,633.6 369.5,634 368,635.8 367.8,636 366.7,638 366,639.7 365.9,640 365.4,642 365.2,644 365.3,646 365.7,648 366,648.7 366.5,650 367.6,652 368,652.6 369.1,654 370,654.9 371.5,656 372,656.4 374,657.5 375.5,658 376,658.2 378,658.7 380,658.9 382,658.9 384,658.8 386,658.6 388,658.2 389.3,658 390,657.8 392,657.5 393.7,658 394,658.3 394.4,660 394.6,662 394.7,664 394.9,666 395.2,668 395.5,670 396,671.7 396.1,672 396.7,674 397.7,676 398,676.6 398.8,678 400,679.5 400.4,680 402,681.6 402.5,682 404,683.2 405.5,684 406,684.3 408,685.1 410,685.5 412,685.7 414,685.5 416,685.1 418,684.5 418.9,684 420,683.5 422,682.2 422.3,682 424,680.5 424.5,680 426,678.2 426.2,678 427.4,676 428,674.8 428.4,674 429.1,672 429.5,670 429.6,668 429.5,666 429,664 428.2,662 428,661.7 427,660 426,658.8 425.3,658 424,656.8 423,656 422,655.3 420,654.1 419.7,654 418,653.3 416,652.7 414,652.3 412,652.2 410,652.1 408,652.3 406,652.5 404,652.9 402,653.3 400,653.8 398.6,654 398,654.1 397.4,654 396,652.9 395.8,652 395.6,650 395.4,648 395.1,646 394.7,644 394.2,642 394,641.4 393.5,640 392.6,638 392,637 391.3,636 390,634.5 389.5,634 388,632.7 386.9,632 386,631.5 384,630.7 382,630.2 380.5,630ZM402,701.7 401.2,702 400,702.4 398,703.4 397.1,704 396,704.8 394.7,706 394,706.8 393.1,708 392,709.9 391.9,710 391.1,712 390.7,714 390.5,716 390.6,718 391,720 391.7,722 392,722.7 392.7,724 394,725.7 394.2,726 396,727.7 396.5,728 398,729 400,729.9 400.3,730 402,730.5 404,730.8 406,730.8 408,730.5 409.7,730 410,729.9 412,729 413.5,728 414,727.7 415.8,726 416,725.7 417.3,724 418,722.7 418.3,722 419,720 419.4,718 419.5,716 419.3,714 418.9,712 418.1,710 418,709.8 417,708 416,706.6 415.4,706 414,704.6 413.2,704 412,703.1 410,702.2 409.4,702 408,701.6 406,701.3 404,701.3ZM372,625.6 371.3,626 370,626.6 368,627.8 367.8,628 366,629.4 365.4,630 364,631.6 363.6,632 362.3,634 362,634.6 361.2,636 360.5,638 360,639.8 360,640 359.6,642 359.5,644 359.6,646 359.9,648 360,648.5 360.3,650 361.1,652 362,653.9 362.1,654 363.3,656 364,656.8 365,658 366,659 367.2,660 368,660.6 370,661.9 370.3,662 372,662.9 374,663.6 375.3,664 376,664.2 378,664.7 380,665.1 382,665.5 384,666 384.1,666 386,666.9 387.4,668 388,668.6 388.9,670 389.9,672 390,672.1 390.8,674 391.7,676 392,676.6 392.7,678 393.8,680 394,680.3 395,682 396,683.4 396.5,684 398,685.9 398.1,686 399.6,688 400,688.6 401,690 401.6,692 400.5,694 400,694.3 398,696 398,696 396,697.3 395.1,698 394,698.8 392.6,700 392,700.6 390.6,702 390,702.7 388.9,704 388,705.4 387.6,706 386.6,708 386,709.6 385.8,710 385.3,712 384.9,714 384.8,716 384.9,718 385.1,720 385.6,722 386,723 386.3,724 387.3,726 388,727.1 388.6,728 390,729.8 390.2,730 392,731.7 392.4,732 394,733.2 395.4,734 396,734.4 398,735.2 400,735.8 400.8,736 402,736.3 404,736.5 406,736.5 408,736.3 409.2,736 410,735.8 412,735.2 414,734.4 414.6,734 416,733.2 417.6,732 418,731.7 419.8,730 420,729.8 421.4,728 422,727.1 422.7,726 423.7,724 424,723 424.4,722 424.9,720 425.1,718 425.2,716 425.1,714 424.8,712 424.2,710 424,709.4 423.5,708 422.6,706 422,705 421.4,704 420.1,702 420,701.9 418.6,700 418,699.1 417.1,698 416,696.1 416,696 415.8,694 416,693.8 417.5,692 418,691.7 420,690.3 420.3,690 422,689 423.3,688 424,687.5 425.9,686 426,685.9 428,684 428,684 429.9,682 430,681.8 431.4,680 432,679.2 432.8,678 434,676 434,676 435.2,674 436,672.5 436.3,672 437.7,670 438,669.4 439.9,668 440,667.9 442,667.8 442.8,668 444,668.3 446,668.8 448,669.3 450,669.6 452,669.6 454,669.3 456,668.7 457.2,668 458,667.5 459.6,666 460,665.5 460.9,664 461.7,662 462,660 461.8,658 461.3,656 460.2,654 460,653.7 458.3,652 458,651.7 456,650.6 454.1,650 454,650 452,649.8 450,649.9 449.8,650 448,650.5 446,651.5 445.1,652 444,652.8 442.6,654 442,654.6 440.3,656 440,656.3 438,657.5 436,657.4 434,656.4 433.4,656 432,655.2 430.3,654 430,653.8 428,652.5 427.3,652 426,651.2 424,650.1 423.7,650 422,649.2 420,648.4 418.7,648 418,647.8 416,647.3 414,646.9 412,646.6 410,646.4 408,646.1 407.6,646 406,645.6 404,644.7 403.2,644 402,642.8 401.5,642 400.3,640 400,639.5 399.3,638 398.2,636 398,635.7 397,634 396,632.7 395.5,632 394,630.3 393.6,630 392,628.5 391.2,628 390,627.1 388,626.1 387.8,626 386,625.3 384,624.7 382,624.3 380,624.2 378,624.2 376,624.5 374,624.9ZM594,675.9 593.8,676 592,676.9 590.5,678 590,678.5 588.8,680 588,681.6 587.8,682 587.3,684 587.3,686 587.6,688 588,689.3 588.3,690 589.5,692 590,692.6 591.6,694 592,694.3 594,695.3 596,695.8 598,696 600,695.7 602,695 603.7,694 604,693.8 605.8,692 606,691.7 606.9,690 607.6,688 607.7,686 607.5,684 606.9,682 606,680.2 605.9,680 604.1,678 604,677.9 602,676.6 600.6,676 600,675.8 598,675.4 596,675.5ZM632,706 631.9,706 630,707 629.2,708 628.9,710 629.9,712 630,712.1 632,712.8 634,712.4 634.6,712 635.7,710 635.3,708 634,706.5 632.1,706Z" fill="none" stroke="#000" stroke-opacity="0.5" stroke-width="1.2" stroke-dasharray="3,2.2"/>
<g stroke-width="1.2" stroke-linecap="butt"><line x1="411.8" y1="673.2" x2="395.2" y2="660.4" stroke="#000000"/><line x1="395.2" y1="660.4" x2="378.6" y2="647.6" stroke="#ff0000"/><line x1="414.1" y1="673.5" x2="411.2" y2="694.4" stroke="#000000"/><line x1="411.2" y1="694.4" x2="408.3" y2="715.3" stroke="#ff0000"/><line x1="409.5" y1="672.9" x2="406.6" y2="693.8" stroke="#000000"/><line x1="406.6" y1="693.8" x2="403.7" y2="714.6" stroke="#ff0000"/><line x1="411.8" y1="673.2" x2="452.2" y2="659.6" stroke="#000000"/><line x1="452.2" y1="659.6" x2="484.9" y2="686.9" stroke="#000000"/><line x1="484.9" y1="686.9" x2="525" y2="673" stroke="#000000"/><line x1="525" y1="673" x2="556.5" y2="700.4" stroke="#000000"/><path d="M597.2,685.6 L555.2,696.9 L557.8,703.8Z" fill="#000"/><line x1="597.2" y1="685.6" x2="602.6" y2="667.5" stroke="#000000"/><line x1="602.6" y1="667.5" x2="608" y2="649.3" stroke="#cccc00"/><line x1="613.8" y1="644.9" x2="647.4" y2="644" stroke="#cccc00"/><line x1="653.4" y1="648.1" x2="659.8" y2="666.1" stroke="#cccc00"/><line x1="659.8" y1="666.1" x2="666.1" y2="684" stroke="#000000"/><line x1="666.1" y1="684" x2="632.4" y2="709.5" stroke="#000000"/><line x1="632.4" y1="709.5" x2="597.2" y2="685.6" stroke="#000000"/></g>
<text x="379" y="650" text-anchor="end" font-size="11" fill="#ff0000">HO</text>
<text x="404.7" y="724.8" text-anchor="middle" font-size="11" fill="#ff0000">O</text>
<text x="609.3" y="649" text-anchor="middle" font-size="11" fill="#cccc00">S</text>
<text x="651.9" y="647.9" text-anchor="middle" font-size="11" fill="#cccc00">S</text>
<line x1="1.7" y1="258.6" x2="683.8" y2="258.6" stroke="#555" stroke-width="1.1"/>
<line x1="1.7" y1="539.8" x2="683.8" y2="539.8" stroke="#555" stroke-width="1.1"/>
</svg></body></html>
